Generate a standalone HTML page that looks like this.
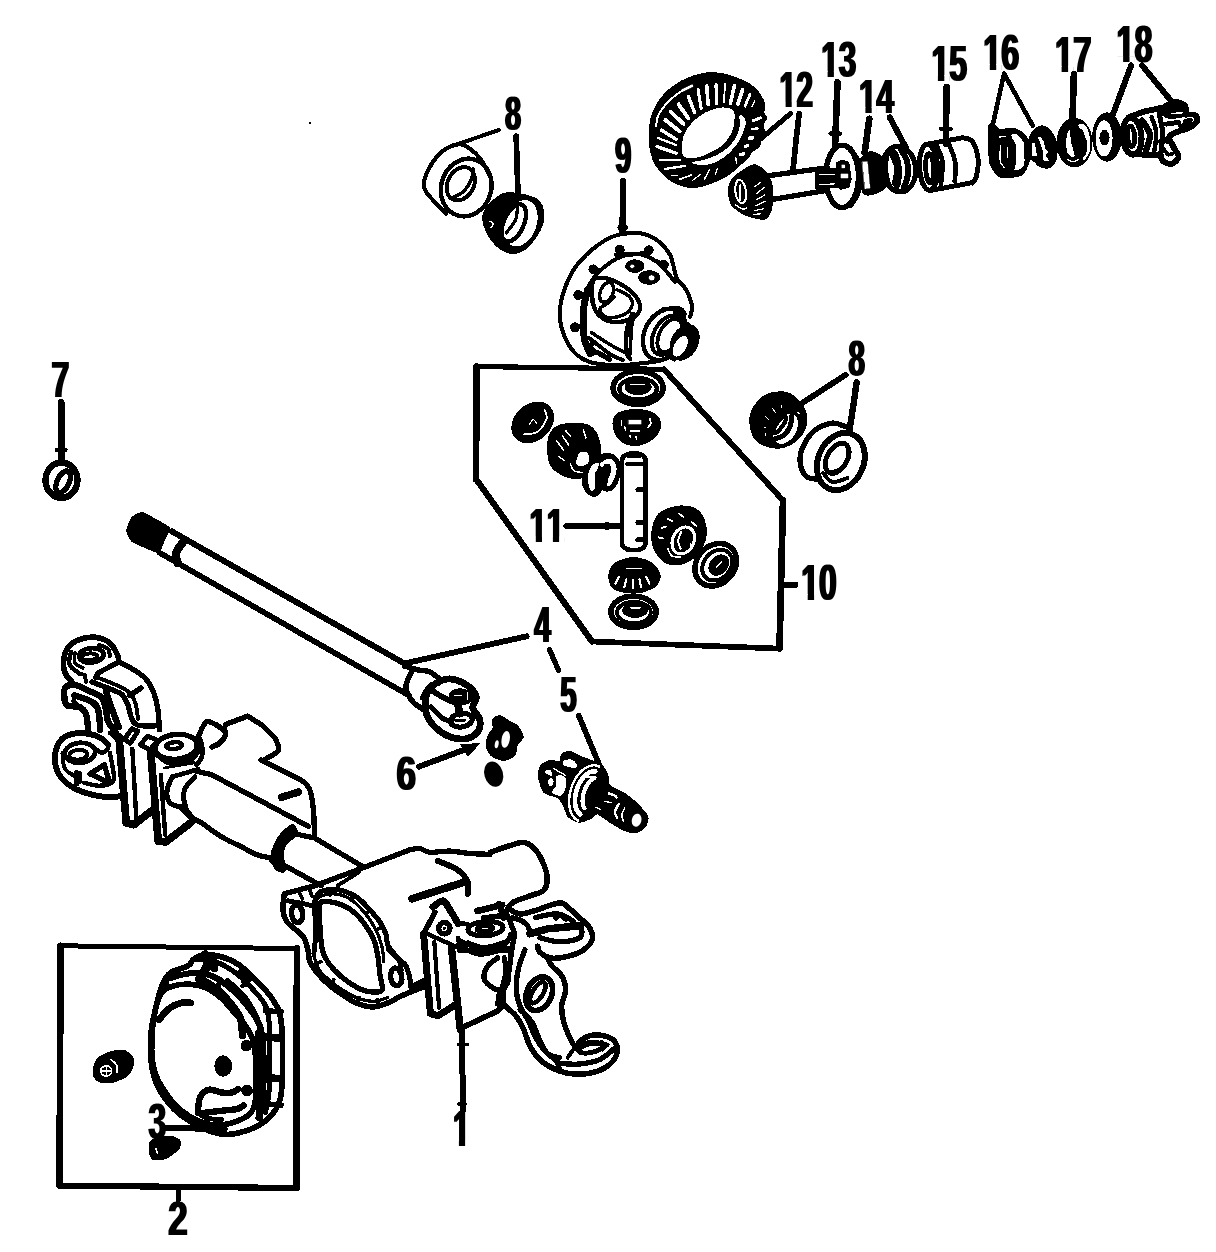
<!DOCTYPE html>
<html><head><meta charset="utf-8"><title>Front axle diagram</title>
<style>
html,body{margin:0;padding:0;background:#fff}
svg{display:block}
svg path,svg ellipse{stroke-linecap:round;stroke-linejoin:round}
svg text{font-family:"Liberation Sans",sans-serif;font-weight:bold;fill:#000}
</style></head><body>
<svg width="1216" height="1252" viewBox="0 0 1216 1252">
<defs><filter id="bold" x="-2%" y="-2%" width="104%" height="104%"><feMorphology operator="dilate" radius="1 0"/></filter></defs>
<rect width="1216" height="1252" fill="#fff"/>
<g id="labels" filter="url(#bold)">
<text transform="translate(506 129.7) scale(0.603 1)" font-size="47.9" x="-1.52" y="0">8</text>
<text transform="translate(616 173.4) scale(0.593 1)" font-size="49.6" x="-1.72" y="0">9</text>
<text transform="translate(781.6 107.4) scale(0.606 1)" font-size="49.5" x="-3.38 24.13" y="0">12</text>
<text transform="translate(823.4 76.6) scale(0.627 1)" font-size="50.2" x="-3.43 24.47" y="0">13</text>
<text transform="translate(861.2 112.8) scale(0.640 1)" font-size="49" x="-3.35 23.90" y="0">14</text>
<text transform="translate(933.6 80.7) scale(0.638 1)" font-size="50.2" x="-3.43 24.47" y="0">15</text>
<text transform="translate(985.5 69.7) scale(0.640 1)" font-size="50.4" x="-3.44 24.56" y="0">16</text>
<text transform="translate(1057.2 71.8) scale(0.648 1)" font-size="50.5" x="-3.45 24.61" y="0">17</text>
<text transform="translate(1118.8 62.2) scale(0.625 1)" font-size="51.7" x="-3.53 25.21" y="0">18</text>
<text transform="translate(803.5 599.7) scale(0.641 1)" font-size="49.6" x="-3.39 24.22" y="0">10</text>
<text transform="translate(531.6 542.1) scale(0.646 1)" font-size="47.8" x="-3.27 23.30" y="0">11</text>
<text transform="translate(849.5 375.6) scale(0.594 1)" font-size="49.8" x="-1.58" y="0">8</text>
<text transform="translate(52.9 396.6) scale(0.644 1)" font-size="49.6" x="-2.13" y="0">7</text>
<text transform="translate(534.7 641.6) scale(0.602 1)" font-size="49.6" x="-0.75" y="0">4</text>
<text transform="translate(397.9 790.4) scale(0.729 1)" font-size="48.1" x="-1.76" y="0">6</text>
<text transform="translate(561.2 712.1) scale(0.596 1)" font-size="49.5" x="-1.52" y="0">5</text>
<text transform="translate(455 1146.4) scale(0.608 1)" font-size="49.5" x="-3.38" y="0">1</text>
<text transform="translate(169.4 1234.9) scale(0.710 1)" font-size="49" x="-1.70" y="0">2</text>
<text transform="translate(149.3 1139.4) scale(0.636 1)" font-size="49.8" x="-1.14" y="0">3</text>
</g>
<g id="masks">
<rect x="779.5" y="101.8" width="6.1" height="7.1" fill="#fff"/>
<rect x="791.7" y="101.8" width="5" height="7.1" fill="#fff"/>
<rect x="821.2" y="70.9" width="6.4" height="7.2" fill="#fff"/>
<rect x="833.9" y="70.9" width="5.3" height="7.2" fill="#fff"/>
<rect x="859.1" y="107.2" width="6.3" height="7.1" fill="#fff"/>
<rect x="871.7" y="107.2" width="5.2" height="7.1" fill="#fff"/>
<rect x="931.4" y="75" width="6.5" height="7.2" fill="#fff"/>
<rect x="944.3" y="75" width="5.4" height="7.2" fill="#fff"/>
<rect x="983.3" y="64" width="6.5" height="7.2" fill="#fff"/>
<rect x="996.2" y="64" width="5.4" height="7.2" fill="#fff"/>
<rect x="1055" y="66" width="6.6" height="7.2" fill="#fff"/>
<rect x="1068.1" y="66" width="5.5" height="7.2" fill="#fff"/>
<rect x="1116.6" y="56.3" width="6.5" height="7.4" fill="#fff"/>
<rect x="1129.5" y="56.3" width="5.4" height="7.4" fill="#fff"/>
<rect x="801.3" y="594" width="6.4" height="7.2" fill="#fff"/>
<rect x="814.1" y="594" width="5.3" height="7.2" fill="#fff"/>
<rect x="529.5" y="536.6" width="6.3" height="7" fill="#fff"/>
<rect x="542" y="536.6" width="5.2" height="7" fill="#fff"/>
<rect x="546.6" y="536.6" width="6.3" height="7" fill="#fff"/>
<rect x="559.1" y="536.6" width="5.2" height="7" fill="#fff"/>
<rect x="452.8" y="1140.7" width="6.1" height="7.2" fill="#fff"/>
<rect x="465.1" y="1140.7" width="5" height="7.2" fill="#fff"/>
</g>
<g id="art" shape-rendering="crispEdges">
<path d="M498.8 130 L458.8 143.8" fill="none" stroke="#000" stroke-width="4"/>
<path d="M516.2 136.2 L517 162.5 L518 195" fill="none" stroke="#000" stroke-width="5.7"/>
<path d="M490 176.2C488.5 173.5 484.6 164.6 481.2 160C477.9 155.4 473.8 151.4 470 148.8C466.2 146.1 463.3 143.8 458.8 144.2C454.2 144.7 447.4 147.4 442.5 151.2C437.6 155.1 432.6 162.1 429.5 167.5C426.4 172.9 424.2 179.4 423.8 183.8C423.3 188.1 426.5 192.1 427 193.8" fill="none" stroke="#000" stroke-width="4.2"/>
<path d="M427 193.8 L446.2 213.8" fill="none" stroke="#000" stroke-width="4.2"/>
<ellipse cx="466.2" cy="187.5" rx="25" ry="29.2" transform="rotate(18 466.2 187.5)" fill="none" stroke="#000" stroke-width="4.4"/>
<ellipse cx="460.8" cy="183.8" rx="13" ry="17.5" transform="rotate(28 460.8 183.8)" fill="none" stroke="#000" stroke-width="4"/>
<path d="M473 168.8C472.7 170.6 472.8 176.2 471.2 180C469.7 183.8 466.8 188.3 463.8 191.2C460.7 194.2 454.8 196.5 453 197.5" fill="none" stroke="#000" stroke-width="3.5"/>
<path d="M483.8 216.2C484.2 210.6 488.5 206.2 492.5 202.5C496.5 198.8 500.2 194.2 507.5 193.8C514.8 193.3 530.3 196.2 536.2 200C542.2 203.8 543 210.4 543 216.2C543 222.1 539.9 229.3 536.2 235C532.6 240.7 526.5 247.9 521.2 250.5C516 253.1 510.2 252.9 505 250.5C499.8 248.1 493.5 242 490 236.2C486.5 230.5 483.3 221.9 483.8 216.2Z" fill="#000" stroke="#000" stroke-width="3"/>
<ellipse cx="520.5" cy="223.2" rx="15" ry="23" transform="rotate(20 520.5 223.2)" fill="#fff" stroke="#fff" stroke-width="2"/>
<ellipse cx="513.8" cy="223" rx="10" ry="20" transform="rotate(24 513.8 223)" fill="none" stroke="#000" stroke-width="4.4"/>
<path d="M490 221.2C490.5 221.7 492.8 222.7 493 223.8C493.2 224.8 491.5 226.9 491.2 227.5" fill="none" stroke="#fff" stroke-width="1.5"/>
<path d="M517.5 206.2C517.2 208.5 517.4 215.5 515.5 220C513.6 224.5 507.8 230.8 506.2 233" fill="none" stroke="#000" stroke-width="3.3"/>
<path d="M623.2 181.2 L622.5 233" fill="none" stroke="#000" stroke-width="6.4"/>
<path d="M620 227.5 L625.5 227.5" fill="none" stroke="#000" stroke-width="5"/>
<path d="M621.7 233.8C624.8 233.7 634.8 232.5 640.1 233.2C645.4 233.8 649.3 235.6 653.3 237.8C657.2 240 660.9 243.4 663.8 246.3C666.6 249.3 668.7 252.2 670.4 255.6C672 259 672.6 262.9 673.7 266.7C674.8 270.6 675.1 275.1 676.9 278.6C678.8 282.1 682.8 284.7 684.8 287.8C686.9 290.9 688.2 293.7 689.4 297C690.7 300.3 692 304.2 692.1 307.5C692.2 310.8 690.4 315.2 690.1 316.7" fill="none" stroke="#000" stroke-width="4.1"/>
<path d="M621.7 233.8C619.7 234.5 613.8 235.9 609.8 237.8C605.9 239.7 601.9 242.2 598 245C594.1 247.9 589.9 251.3 586.2 254.9C582.4 258.5 578.7 262.4 575.6 266.7C572.6 271.1 570 275.9 567.7 281.2C565.4 286.5 563.1 292.8 561.8 298.3C560.5 303.8 559.8 309.1 559.8 314.1C559.8 319.1 560.5 323.8 561.8 328.6C563.1 333.4 565.2 338.7 567.7 343.1C570.3 347.4 573.2 351.7 576.9 354.9C580.7 358.1 585.1 360.5 590.1 362.1C595.1 363.8 601.1 364.3 607.2 364.8C613.4 365.2 621.5 365 626.9 364.8C632.4 364.5 635.3 364 640.1 363.4C644.9 362.9 651.5 362.2 655.9 361.5C660.3 360.7 664.7 359.3 666.4 358.8" fill="none" stroke="#000" stroke-width="4.1"/>
<path d="M591.4 353.6C590.4 351.4 587 345.2 585.5 340.4C584 335.6 582.9 330.1 582.5 324.6C582 319.1 582.1 313.2 582.9 307.5C583.6 301.8 585 295.5 586.8 290.4C588.7 285.4 591.1 281.2 594.1 277.3C597 273.3 600.9 269.8 604.6 266.7C608.3 263.7 612.7 260.8 616.4 258.8C620.1 256.9 623 255.7 626.9 254.9C630.9 254.1 635.9 253.6 640.1 254.2C644.3 254.9 648.4 257 651.9 258.8C655.5 260.7 658.3 262.8 661.2 265.4C664 268.1 666.8 271.9 669.1 274.6C671.4 277.4 674 280.7 675 281.9" fill="none" stroke="#000" stroke-width="4"/>
<path d="M590.1 353.6C589.2 351.4 586 345.2 584.8 340.4C583.7 335.6 583.4 330.1 583.3 324.6C583.1 319.1 583.1 313.2 583.8 307.5C584.5 301.8 586.9 293.3 587.5 290.4" fill="none" stroke="#000" stroke-width="7"/>
<path d="M591.4 303.6C591.2 305.8 590.3 312.4 590.4 316.7C590.5 321.1 591.8 327.7 592.1 329.9" fill="none" stroke="#fff" stroke-width="1.2"/>
<path d="M616.4 254.9 L645.4 253.6" fill="none" stroke="#000" stroke-width="4.7"/>
<path d="M593.4 279.9C595.3 276.9 599.4 277.6 603.3 277.9C607.1 278.2 612.3 280 616.4 281.9C620.6 283.7 625 286.6 628.3 289.1C631.6 291.6 634.2 294.1 636.2 297C638.1 299.9 639.9 303.4 640.1 306.2C640.3 309.1 639.2 311.9 637.5 314.1C635.7 316.3 632.6 318.1 629.6 319.4C626.5 320.7 622.8 321.8 619.1 322C615.3 322.2 610.5 321.8 607.2 320.7C603.9 319.6 601.5 317.6 599.3 315.4C597.1 313.2 595.3 310.8 594.1 307.5C592.8 304.2 592.2 300.3 592.1 295.7C592 291.1 591.5 282.9 593.4 279.9Z" fill="none" stroke="#000" stroke-width="4.4"/>
<ellipse cx="606.6" cy="292.4" rx="6.3" ry="10.3" transform="rotate(22 606.6 292.4)" fill="none" stroke="#000" stroke-width="3.5"/>
<path d="M617.1 289.8C618.9 290.8 625.7 293.4 628.3 295.7C630.8 298 632.7 300.7 632.5 303.6C632.3 306.4 629.6 310.6 626.9 312.8C624.3 315 619.9 316.3 616.4 317C612.9 317.7 608.5 317.8 605.9 317C603.3 316.2 601.5 313.7 600.6 312.1C599.8 310.6 599.8 309 600.9 307.5C602 306.1 605.1 305.3 607.2 303.6C609.4 301.8 612.7 298.1 613.8 297" fill="none" stroke="#000" stroke-width="3.5"/>
<path d="M632.2 314.1C631.4 316.3 628.7 322.9 627.6 327.3C626.6 331.6 626 336 625.9 340.4C625.8 344.8 626.2 350.5 626.9 353.6C627.7 356.6 629.7 358 630.2 358.8" fill="none" stroke="#000" stroke-width="4.7"/>
<path d="M634.2 314.1C633.7 316.7 631.8 323.3 631.2 329.9C630.6 336.5 630.7 349.6 630.6 353.6" fill="none" stroke="#000" stroke-width="3.5"/>
<path d="M591.4 332.5C593.4 333.8 599.1 337.8 603.3 340.4C607.4 343.1 612.5 346.1 616.4 348.3C620.4 350.5 625.2 352.7 626.9 353.6" fill="none" stroke="#000" stroke-width="3.5"/>
<path d="M588.8 337.8C590.8 339.3 596.9 344.1 600.6 347C604.4 349.9 607.4 352.7 611.2 354.9C614.9 357.1 621 359.3 623 360.2" fill="none" stroke="#000" stroke-width="4"/>
<path d="M587.5 350.3C589 350.6 593 350.7 596.7 352.3C600.4 353.8 607.6 358.3 609.8 359.5" fill="none" stroke="#000" stroke-width="5.1"/>
<circle cx="619.7" cy="249.6" r="5" fill="#000"/>
<path d="M619.7 249.6 L621.7 256.5" fill="none" stroke="#000" stroke-width="4.4"/>
<circle cx="648.7" cy="250.3" r="5" fill="#000"/>
<path d="M648.7 250.3 L646 255.9" fill="none" stroke="#000" stroke-width="4.4"/>
<circle cx="663.8" cy="264.8" r="5" fill="#000"/>
<path d="M663.8 264.8 L657.2 261.5" fill="none" stroke="#000" stroke-width="4.4"/>
<circle cx="593.4" cy="269.4" r="5" fill="#000"/>
<path d="M593.4 269.4 L599.3 270.7" fill="none" stroke="#000" stroke-width="4.4"/>
<circle cx="578.3" cy="295" r="5" fill="#000"/>
<path d="M578.3 295 L584.8 295.7" fill="none" stroke="#000" stroke-width="4.4"/>
<circle cx="575" cy="327.3" r="5" fill="#000"/>
<path d="M575 327.3 L583.5 325.9" fill="none" stroke="#000" stroke-width="4.4"/>
<circle cx="590.8" cy="351.6" r="5" fill="#000"/>
<path d="M590.8 351.6 L591.4 344.4" fill="none" stroke="#000" stroke-width="4.4"/>
<ellipse cx="634.8" cy="266.1" rx="9.2" ry="6.3" transform="rotate(0 634.8 266.1)" fill="#000" stroke="#000" stroke-width="1"/>
<ellipse cx="632.2" cy="266.3" rx="1.8" ry="1.6" transform="rotate(0 632.2 266.3)" fill="#fff" stroke="#fff" stroke-width="0.5"/>
<ellipse cx="649.3" cy="277.5" rx="10.5" ry="6.8" transform="rotate(0 649.3 277.5)" fill="#000" stroke="#000" stroke-width="1"/>
<ellipse cx="651.6" cy="277.8" rx="2.6" ry="2.4" transform="rotate(0 651.6 277.8)" fill="#fff" stroke="#fff" stroke-width="0.5"/>
<ellipse cx="664.4" cy="334.5" rx="19.7" ry="27" transform="rotate(28 664.4 334.5)" fill="none" stroke="#000" stroke-width="4.4"/>
<ellipse cx="667.1" cy="335.2" rx="13.2" ry="21.1" transform="rotate(28 667.1 335.2)" fill="none" stroke="#000" stroke-width="4"/>
<ellipse cx="669.7" cy="335.4" rx="10.3" ry="17.8" transform="rotate(28 669.7 335.4)" fill="none" stroke="#000" stroke-width="3.8"/>
<path d="M675 312.8 L690.8 327.3" fill="none" stroke="#000" stroke-width="4"/>
<path d="M658.5 350.3 L674.3 359.5" fill="none" stroke="#000" stroke-width="4"/>
<ellipse cx="684.6" cy="342.4" rx="12.1" ry="17.8" transform="rotate(28 684.6 342.4)" fill="#000" stroke="#000" stroke-width="3"/>
<ellipse cx="680.2" cy="346.3" rx="5.5" ry="10.8" transform="rotate(30 680.2 346.3)" fill="#fff" stroke="#fff" stroke-width="1"/>
<path d="M684.8 314.1C684.2 313.2 682.9 309.8 680.9 308.8C678.9 307.9 676.1 308.1 673 308.2C669.9 308.3 664.2 309.3 662.5 309.5" fill="none" stroke="#000" stroke-width="4"/>
<rect x="309" y="122" width="2" height="2" fill="#000"/>
<path d="M705.4 73.1C709.7 72.5 716.3 72.8 720.5 73.4C724.6 74.1 732.9 76.6 736.6 77.9C740.4 79.3 745.8 81.7 748.5 83.3C751.2 85 755.2 88.2 757.1 90.3C759 92.5 762 97.3 763 99.5C764 101.7 764.6 105.3 764.7 107C764.8 108.8 763.5 111 763.8 112.4C764 113.9 766.6 116.2 766.6 117.8C766.6 119.4 763.9 122.4 763.6 124.3C763.2 126.2 764.5 129.7 764.1 131.8C763.8 134 761.5 138.4 760.9 140.5C760.2 142.5 760.6 145.3 759.3 146.9C758 148.5 752.6 150.9 751.2 152.3C749.7 153.7 750 156 748.5 157.7C747 159.4 741.9 163.5 739.9 165.2C737.8 167 735.4 169.6 733.4 171.2C731.4 172.8 727.6 175.5 724.8 177.1C721.9 178.7 715.7 181.7 711.8 183C708 184.4 699.7 187 695.7 187.3C691.6 187.7 685.2 186.8 681.6 185.7C678.1 184.7 671.7 181.4 668.7 179.3C665.7 177.1 661.1 172.1 659 169.6C656.9 167 654.3 162.9 653.1 159.9C651.9 156.8 650.4 150.7 649.9 146.9C649.3 143.2 649.2 135.6 649.3 131.8C649.5 128.1 650.1 122.3 650.9 118.9C651.8 115.4 654 109.3 655.8 106C657.6 102.7 661.8 96.9 664.4 94.1C667 91.3 672 87.1 675.2 84.9C678.3 82.8 684.1 79.5 688.1 77.9C692.1 76.4 701.1 73.7 705.4 73.1Z" fill="#000" stroke="#000" stroke-width="1"/>
<path d="M692.4 162.6C692.4 163.1 698.5 164.6 701.1 164.7C703.6 164.8 709 164 711.8 163.1C714.7 162.2 720 159.4 722.6 157.7C725.2 156 729.1 152.5 731.2 150.2C733.4 147.9 737.1 143.2 738.8 140.5C740.4 137.7 742.8 132.3 743.6 129.7C744.5 127.1 745.5 122.9 745.2 121.1C745 119.2 742.7 116.4 742 115.7C741.3 115 740.1 114.6 739.9 115.9C739.6 117.2 740.7 122.8 740.4 125.4C740.1 127.9 738.9 132.5 737.7 135.1C736.5 137.7 733.2 142.5 731.2 144.8C729.2 147.1 725.2 150.6 722.6 152.3C720 154 714.7 156.6 711.8 157.7C709 158.9 703.6 160.3 701.1 160.9C698.5 161.6 692.4 162.1 692.4 162.6Z" fill="#fff" stroke="#fff" stroke-width="1"/>
<path d="M683.3 154.5C682.5 152.5 682.4 145.5 682.7 142.6C683 139.7 684.1 135.5 685.4 132.9C686.7 130.3 690.3 125.5 692.4 123.2C694.5 120.9 698.5 117.4 701.1 115.7C703.6 113.9 709.2 111.3 711.8 110.3C714.4 109.3 718.2 108.3 720.5 108.1C722.8 107.9 727.4 108.2 729.1 108.7C730.8 109.1 732.7 110 733.4 111.4C734.1 112.7 734.2 116.5 734 118.9C733.9 121.3 733.3 126.9 732.3 129.7C731.4 132.4 728.6 137.1 726.9 139.4C725.2 141.7 721.7 145.2 719.4 146.9C717.1 148.6 712.4 151 709.7 152.3C706.9 153.6 701.8 155.9 698.9 156.6C696 157.3 690.2 158 688.1 157.7C686 157.4 684 156.5 683.3 154.5Z" fill="#fff" stroke="#fff" stroke-width="1"/>
<path d="M706.7 86 L708.1 104.3" fill="none" stroke="#fff" stroke-width="3.6"/>
<path d="M716.1 84.9 L716.7 103.3" fill="none" stroke="#fff" stroke-width="3.4"/>
<path d="M724.8 83.5 L724.2 102.5" fill="none" stroke="#fff" stroke-width="1.9"/>
<path d="M734.5 85.5 L730.4 103.3" fill="none" stroke="#fff" stroke-width="3.6"/>
<path d="M742.6 89.8 L737.9 104" fill="none" stroke="#fff" stroke-width="3.6"/>
<path d="M750.1 94.1 L745 106.2" fill="none" stroke="#fff" stroke-width="2.8"/>
<path d="M754.9 100.8 L751.9 106.4" fill="none" stroke="#fff" stroke-width="1.3"/>
<path d="M698 89.8 L701.1 108.1" fill="none" stroke="#fff" stroke-width="3.1"/>
<path d="M688.3 96.3 L694.6 112.4" fill="none" stroke="#fff" stroke-width="3.4"/>
<path d="M678.6 104.3 L688.3 118.5" fill="none" stroke="#fff" stroke-width="3.9"/>
<path d="M670.7 111.9 L683.6 123.9" fill="none" stroke="#fff" stroke-width="3.9"/>
<path d="M665.3 120 L679.7 131.4" fill="none" stroke="#fff" stroke-width="3.9"/>
<path d="M661.4 130.1 L676 139.2" fill="none" stroke="#fff" stroke-width="3.4"/>
<path d="M658.2 138.1 L676 145" fill="none" stroke="#fff" stroke-width="2.3"/>
<path d="M657.1 146.5 L676 153.2" fill="none" stroke="#fff" stroke-width="3.4"/>
<path d="M659.9 159.9 L680.4 160.4" fill="none" stroke="#fff" stroke-width="2.1"/>
<path d="M664.6 169 L685.1 165.9" fill="none" stroke="#fff" stroke-width="2.3"/>
<path d="M671.5 175.5 L677.3 175.5" fill="none" stroke="#fff" stroke-width="1"/>
<path d="M679.7 179.3 L691.1 175.2" fill="none" stroke="#fff" stroke-width="1.7"/>
<path d="M692.6 180.3 L700.8 174.1" fill="none" stroke="#fff" stroke-width="1.3"/>
<path d="M704.5 179 L709.5 169.8" fill="none" stroke="#fff" stroke-width="1.4"/>
<path d="M715.3 174.7 L717.2 168.7" fill="none" stroke="#fff" stroke-width="1.3"/>
<path d="M753 120.8 L760.1 118" fill="none" stroke="#fff" stroke-width="3.1"/>
<path d="M752.5 129.1 L757.5 128.6" fill="none" stroke="#fff" stroke-width="2.6"/>
<path d="M749.3 138.3 L752.6 137.9" fill="none" stroke="#fff" stroke-width="3.6"/>
<path d="M745.5 146.4 L747.8 145.4" fill="none" stroke="#fff" stroke-width="3.1"/>
<path d="M740.7 154.5 L743.5 154" fill="none" stroke="#fff" stroke-width="3.6"/>
<path d="M735.8 157.9 L736.6 162.9" fill="none" stroke="#fff" stroke-width="1.4"/>
<path d="M656 126.4C656.3 124.8 656.6 119.8 657.7 116.7C658.9 113.7 660.7 111 662.8 108.1C664.9 105.3 667.3 102.5 670.3 99.7C673.4 96.9 677.6 93.7 681.1 91.4C684.6 89.1 689.6 86.9 691.4 86" fill="none" stroke="#fff" stroke-width="2"/>
<path d="M681.9 89.6 L692.4 84.6 L692.9 86.6 L682.9 91.3Z" fill="#fff" stroke="#fff" stroke-width="0.6"/>
<path d="M790.5 113.5 L761.7 138.1" fill="none" stroke="#000" stroke-width="5.1"/>
<path d="M799.2 113.5 L796.2 138.9 L793 170.2" fill="none" stroke="#000" stroke-width="5.7"/>
<path d="M733.8 177.6C736.6 174.7 749.8 165.9 753.5 165.3C757.1 164.6 762.9 169.5 765 171.8C767.1 174.1 770.8 180.8 771.6 185C772.3 189.2 772 204.1 771.2 208C770.5 212 768 217.9 765 218.7C762 219.5 749.1 216.2 745.3 214.6C741.4 213 734 207.6 732.1 204.7C730.2 201.9 728.6 193.1 728.8 189.9C729 186.8 730.9 180.5 733.8 177.6Z" fill="#000" stroke="#000" stroke-width="2"/>
<ellipse cx="740.7" cy="191.6" rx="5.3" ry="11.8" transform="rotate(-8 740.7 191.6)" fill="none" stroke="#fff" stroke-width="2"/>
<path d="M740.3 185 L740.3 199.8" fill="none" stroke="#fff" stroke-width="1.8"/>
<path d="M755.1 186.6 L760.1 182.5" fill="none" stroke="#fff" stroke-width="1.3"/>
<path d="M756 194 L764.2 187.5" fill="none" stroke="#fff" stroke-width="1.3"/>
<path d="M756.4 199.8 L765 194.9" fill="none" stroke="#fff" stroke-width="1.3"/>
<path d="M756 205.6 L765 201.4" fill="none" stroke="#fff" stroke-width="1.3"/>
<path d="M755.1 210.5 L763.4 208.8" fill="none" stroke="#fff" stroke-width="1.3"/>
<path d="M753.5 214.6 L760.1 213.8" fill="none" stroke="#fff" stroke-width="1.3"/>
<path d="M735.4 204.7C736.5 205.4 740.1 208.3 742 208.8C743.9 209.4 746.1 208.2 746.9 208" fill="none" stroke="#fff" stroke-width="1.5"/>
<path d="M769.9 175.5 L827.5 167.7" fill="none" stroke="#000" stroke-width="5.3"/>
<path d="M771.6 199.5 L827.5 190.3" fill="none" stroke="#000" stroke-width="5.3"/>
<path d="M816.8 173.5 L819.3 188.3" fill="none" stroke="#000" stroke-width="4.4"/>
<path d="M816.8 173.5 L827.5 168.6 L827.5 189.9 L819.3 191.6Z" fill="#000" stroke="#000" stroke-width="1"/>
<path d="M837.5 82.3 L835.1 145.1" fill="none" stroke="#000" stroke-width="6.6"/>
<path d="M869.3 118.8 L864.7 152.5" fill="none" stroke="#000" stroke-width="6.6"/>
<path d="M889.8 117.5 L906.3 148.4" fill="none" stroke="#000" stroke-width="6"/>
<path d="M946.6 87.2 L945.8 143.5" fill="none" stroke="#000" stroke-width="6.6"/>
<path d="M940.8 128.7 L950.7 128.7" fill="none" stroke="#000" stroke-width="4.4"/>
<path d="M830.6 133.6 L839.7 133.6" fill="none" stroke="#000" stroke-width="4.4"/>
<ellipse cx="842.1" cy="176.4" rx="16.4" ry="31.2" transform="rotate(0 842.1 176.4)" fill="none" stroke="#000" stroke-width="5.5"/>
<path d="M850.4 148.4C851.7 150.6 856.8 156.6 858.6 161.6C860.4 166.5 861.2 172.5 861.1 178C860.9 183.5 859.5 189.8 857.8 194.5C856 199.1 851.6 204.1 850.4 206" fill="none" stroke="#000" stroke-width="4.7"/>
<path d="M853.7 155C854.4 158.8 858.1 170.4 858.1 178C858.1 185.7 854.4 197.2 853.7 201.1" fill="none" stroke="#000" stroke-width="2.8"/>
<path d="M815 169 L848.7 167.8 L848.7 187.1 L815 188.2Z" fill="#000" stroke="#000" stroke-width="1"/>
<path d="M836.7 162.9 L842.1 159.9 L848.7 162.4 L851.3 179.5 L848.7 187.4 L840.8 189.2 L837.2 187.1Z" fill="#000" stroke="#000" stroke-width="1"/>
<path d="M841.3 173.9 L847.9 173.9 L847.9 178 L841.3 178Z" fill="#fff" stroke="#fff" stroke-width="0.5"/>
<path d="M842.1 164.9 L844.6 164.9 L844.6 167.8 L842.1 167.8Z" fill="#fff" stroke="#fff" stroke-width="0.5"/>
<path d="M819.9 174.7 L834.7 174.4" fill="none" stroke="#fff" stroke-width="1.2"/>
<path d="M819.9 184.6 L834.7 183.9" fill="none" stroke="#fff" stroke-width="1.2"/>
<path d="M859.7 161.6C861.1 157.3 865.8 153.4 869.3 152.5C872.8 151.7 877.9 153.8 880.8 156.6C883.7 159.5 886 165.1 886.9 169.8C887.8 174.5 887.5 180.9 886.1 184.6C884.6 188.3 881.9 190.5 878.3 192C874.7 193.5 867.2 195.8 864.3 193.5C861.5 191.2 861.8 183.3 861.1 178C860.3 172.7 858.4 165.8 859.7 161.6Z" fill="#000" stroke="#000" stroke-width="2"/>
<path d="M862.5 161.9 L867.3 161.6 L869.9 188.2 L865.2 188.6Z" fill="#fff" stroke="#fff" stroke-width="0.6"/>
<ellipse cx="899.2" cy="169" rx="16.4" ry="23" transform="rotate(-6 899.2 169)" fill="none" stroke="#000" stroke-width="5.1"/>
<ellipse cx="892.6" cy="169.8" rx="6.9" ry="19.4" transform="rotate(-4 892.6 169.8)" fill="none" stroke="#000" stroke-width="4.9"/>
<path d="M900.5 148.4C901.6 150.6 905.9 157.2 907.1 161.6C908.3 166 908.5 170.4 907.9 174.7C907.4 179.1 904.5 185.7 903.8 187.9" fill="none" stroke="#000" stroke-width="6"/>
<path d="M892.3 155C893.1 157.2 896.8 163.5 897.2 168.2C897.6 172.8 895.2 180.5 894.8 183" fill="none" stroke="#000" stroke-width="5.9"/>
<ellipse cx="928.5" cy="167.3" rx="9" ry="23" transform="rotate(-3 928.5 167.3)" fill="none" stroke="#000" stroke-width="5.1"/>
<ellipse cx="929.6" cy="168.2" rx="3.9" ry="14.5" transform="rotate(-3 929.6 168.2)" fill="none" stroke="#000" stroke-width="4.7"/>
<path d="M928.2 144 L963 137.7" fill="none" stroke="#000" stroke-width="4.9"/>
<path d="M931 190.4 L972.6 182.6" fill="none" stroke="#000" stroke-width="4.9"/>
<path d="M963 137.7C964.6 138.4 970 138.1 972.6 141.8C975.1 145.5 977.6 153.9 978.2 159.9C978.7 166 976.9 174.2 975.9 178C974.8 181.9 972.7 182.1 972.1 183" fill="none" stroke="#000" stroke-width="4.9"/>
<path d="M936.7 146C937.7 148.6 941.8 155 942.5 161.6C943.2 168.2 941.1 181.5 940.8 185.4" fill="none" stroke="#000" stroke-width="4.7"/>
<path d="M948.6 143.2C949.6 146.2 954.1 155.2 955.1 161.6C956.2 168 954.9 178.3 954.8 181.6" fill="none" stroke="#000" stroke-width="4.7"/>
<path d="M1004.1 73.6 L992.3 127.0" stroke="#000" stroke-width="4.6" fill="none"/>
<path d="M1004.1 73.6 L1032.8 125.8" stroke="#000" stroke-width="4.6" fill="none"/>
<path d="M1073.9 74.1 L1072.3 124.1" fill="none" stroke="#000" stroke-width="6.6"/>
<path d="M1131.1 65.5 L1112.9 114.6" fill="none" stroke="#000" stroke-width="6"/>
<path d="M1142.1 65.5 L1172.4 102.4" fill="none" stroke="#000" stroke-width="6"/>
<path d="M989.2 125.5C989.8 123.3 991.8 124.3 993.2 124.9C994.6 125.4 997.5 129.3 999.7 129.8C1002 130.3 1008 128.9 1010.3 128.9C1012.5 128.9 1015.1 129.1 1016.8 129.8C1018.6 130.5 1022 132.7 1023.4 134.1C1024.8 135.4 1026.6 138 1027.4 140C1028.1 142 1028.7 146.4 1028.8 149.2C1029 152 1028.9 158.5 1028.6 161.1C1028.2 163.6 1026.9 166.5 1026.1 168.3C1025.2 170 1024 173.1 1022.1 174.2C1020.2 175.4 1014.4 176.5 1011.6 176.8C1008.8 177.2 1003.1 177.1 1001.1 176.7C999 176.3 997.6 174.8 996.4 173.6C995.3 172.3 993.4 169.3 992.5 167.6C991.6 166 990.3 164.6 989.9 161.1C989.4 157.5 989.2 146.1 989.1 141.3C989 136.6 988.7 127.7 989.2 125.5Z" fill="#000" stroke="#000" stroke-width="2"/>
<path d="M1012.2 134.7C1012.8 134.4 1015.7 134.5 1016.8 135.1C1018 135.7 1019.9 138.2 1020.8 139.3C1021.7 140.5 1023.3 141.9 1023.8 143.9C1024.2 146 1023.9 151.8 1023.9 154.5C1023.9 157.2 1024.3 162.5 1023.8 164.3C1023.2 166.2 1021.3 167.9 1020.1 168.6C1018.9 169.3 1015.4 170.2 1014.9 169.7C1014.3 169.3 1015.8 167 1016.1 165C1016.3 163 1016.9 156.9 1017 154.5C1017 152 1016.9 148.4 1016.6 146.6C1016.3 144.7 1015.1 141.9 1014.5 140.7C1014 139.4 1012.7 138.2 1012.4 137.4C1012.1 136.6 1011.6 135 1012.2 134.7Z" fill="#fff" stroke="#fff" stroke-width="1"/>
<path d="M1000.4 145.3C1000.4 147.9 999.6 157.3 1000.3 161.1C1000.9 164.8 1003.7 166.5 1004.3 167.6" fill="none" stroke="#fff" stroke-width="1.3"/>
<path d="M1007.3 147.9 L1007.3 157.8" fill="none" stroke="#fff" stroke-width="1.3"/>
<path d="M999.4 137 L1005 136.4" fill="none" stroke="#fff" stroke-width="1.3"/>
<path d="M1029 141.3C1029.4 138 1030.9 135.2 1032 133.4C1033.1 131.7 1035.9 129.1 1037.2 128.2C1038.6 127.2 1040.4 126.2 1041.8 126.3C1043.3 126.4 1047 128.1 1048.4 129.1C1049.8 130.2 1051.4 132.5 1052.4 134.1C1053.3 135.7 1055.1 139.3 1055.7 141.3C1056.2 143.3 1056.6 146.8 1056.6 149.2C1056.6 151.7 1056.4 157.5 1055.7 159.7C1054.9 162 1052.4 165.3 1051.1 166.3C1049.7 167.4 1047.4 167.7 1045.8 167.6C1044.2 167.5 1040.5 166.4 1039.2 165.7C1037.9 165 1036.9 163.2 1035.9 162.4C1035 161.5 1032.9 159.6 1032 159.1C1031.1 158.6 1029.4 160.8 1029 158.4C1028.6 156.1 1028.6 144.6 1029 141.3Z" fill="#000" stroke="#000" stroke-width="2"/>
<path d="M1032.1 143.3 L1034.3 143.3 L1036.6 155.8 L1033 155.8Z" fill="#fff" stroke="#fff" stroke-width="1"/>
<path d="M1039.2 137C1039.6 137.2 1042.6 140.1 1043.2 141.3C1043.7 142.5 1044.3 148.2 1044.8 149.2C1045.3 150.3 1047.7 151.2 1047.8 151.8C1047.8 152.4 1045.1 154.3 1045.1 155.1C1045.2 156 1048.6 159.9 1048.4 160.4C1048.2 160.9 1043.7 160.6 1043.2 159.7C1042.7 158.9 1043.7 153.4 1043.5 151.8C1043.3 150.3 1041.6 145.2 1041.2 143.9C1040.7 142.7 1039.3 140 1039.1 139.3C1038.9 138.7 1038.8 136.8 1039.2 137Z" fill="#fff" stroke="#fff" stroke-width="1"/>
<ellipse cx="1074.5" cy="142.6" rx="17.5" ry="24.2" transform="rotate(0 1074.5 142.6)" fill="#000" stroke="#000" stroke-width="1"/>
<path d="M1069.7 130.8C1069.4 130.4 1067.6 132.9 1067.2 135.3C1066.9 137.6 1066.8 146 1067 148.4C1067.1 150.9 1067.8 152.7 1068.4 153.7C1069.1 154.7 1071 155.7 1071.7 156.1C1072.5 156.4 1073.9 156.7 1074.1 156.1C1074.3 155.4 1073.4 152.6 1073 151.1C1072.6 149.5 1071.6 146.2 1071.2 144.5C1070.8 142.7 1070.3 139.7 1070.1 137.9C1069.9 136.1 1070.1 131.1 1069.7 130.8Z" fill="#fff" stroke="#fff" stroke-width="1"/>
<path d="M1078.9 124.9C1079.5 124.5 1083 124.3 1084.2 125.1C1085.4 126 1087.2 129.2 1087.9 131.3C1088.6 133.5 1089.4 138.6 1089.6 141.2C1089.8 143.8 1089.6 149.1 1089.2 151.1C1088.9 153 1087.6 154.6 1087 155.8C1086.3 156.9 1084.6 159.6 1084.2 159.7C1083.8 159.9 1083.6 157.8 1083.9 157.1C1084.3 156.4 1086.3 156.5 1086.7 154.3C1087.1 152.2 1087.5 143.7 1087.2 141.2C1087 138.6 1085.6 136.8 1085 135.3C1084.4 133.7 1083.5 130.3 1082.9 129.3C1082.3 128.3 1080.8 128.4 1080.3 127.8C1079.7 127.2 1078.4 125.2 1078.9 124.9Z" fill="#fff" stroke="#fff" stroke-width="1"/>
<path d="M1067.8 159.3C1068.1 159.6 1068.3 160.7 1069.7 160.9C1071.2 161.2 1074.9 161.2 1076.3 160.9C1077.7 160.7 1077.7 159.6 1078 159.3" fill="none" stroke="#fff" stroke-width="1.2"/>
<ellipse cx="1107" cy="137" rx="14.3" ry="24.2" transform="rotate(0 1107 137)" fill="#000" stroke="#000" stroke-width="1"/>
<ellipse cx="1104.1" cy="138.4" rx="8" ry="17.6" transform="rotate(0 1104.1 138.4)" fill="#fff" stroke="#fff" stroke-width="1"/>
<ellipse cx="1104.5" cy="137.6" rx="4.6" ry="7.2" transform="rotate(0 1104.5 137.6)" fill="#000" stroke="#000" stroke-width="1"/>
<ellipse cx="1132" cy="136.3" rx="9.5" ry="18.4" transform="rotate(-5 1132 136.3)" fill="none" stroke="#000" stroke-width="5.9"/>
<ellipse cx="1131.1" cy="136.3" rx="3.6" ry="10.1" transform="rotate(-5 1131.1 136.3)" fill="none" stroke="#000" stroke-width="4.9"/>
<path d="M1128.5 117.5 L1143.8 111.6 L1162 107.8" fill="none" stroke="#000" stroke-width="6"/>
<path d="M1134.3 154 L1161.2 155.7" fill="none" stroke="#000" stroke-width="6"/>
<path d="M1142.1 120.6C1143.4 123 1149.3 129.5 1149.9 134.5C1150.5 139.6 1146.6 148.3 1145.9 151" fill="none" stroke="#000" stroke-width="6.4"/>
<path d="M1151.6 117.2C1152.4 119.8 1155.9 126.7 1156.3 132.8C1156.7 138.9 1154.3 150.1 1153.9 153.6" fill="none" stroke="#000" stroke-width="4.4"/>
<path d="M1159.1 113.7C1159.7 116.9 1162.3 126.1 1162.6 132.8C1162.8 139.5 1161.1 150.4 1160.8 154" fill="none" stroke="#000" stroke-width="5.1"/>
<path d="M1160.3 110.2C1160.3 108.4 1164.2 104.6 1166.4 103.3C1168.6 101.9 1174.1 100.1 1176.8 100.2C1179.4 100.3 1184.9 102.4 1186.3 104.2C1187.8 106 1188.6 112 1187.5 113.7C1186.5 115.4 1181.3 116.7 1178.5 117.2C1175.7 117.6 1168.8 118.1 1166.4 117.2C1163.9 116.2 1160.3 112.1 1160.3 110.2Z" fill="#000" stroke="#000" stroke-width="2"/>
<path d="M1171.9 113.7 L1182 112.7" fill="none" stroke="#fff" stroke-width="1.6"/>
<path d="M1185.5 114.6C1187.1 114.7 1193.1 113.9 1195 115.1C1196.9 116.2 1197.9 119.4 1196.9 121.5C1195.9 123.6 1192 126.3 1188.9 127.9C1185.9 129.6 1181.7 130.1 1178.5 131.4C1175.3 132.7 1171.6 134.2 1169.8 135.9C1168.1 137.6 1168.4 140.5 1168.1 141.5" fill="none" stroke="#000" stroke-width="5.9"/>
<path d="M1184.6 121.5C1185.6 121.2 1190.2 119.3 1190.7 119.8C1191.1 120.2 1188.9 123.1 1187.2 124.1C1185.5 125.1 1181.4 125.6 1180.3 125.8" fill="none" stroke="#000" stroke-width="4"/>
<path d="M1166.4 124.1 L1178.5 122.4" fill="none" stroke="#000" stroke-width="4.9"/>
<path d="M1161.2 141.5C1162.5 141.2 1166.8 138.6 1169 139.7C1171.1 140.9 1172.6 145.5 1174.2 148.4C1175.8 151.3 1178.9 154.5 1178.5 157.1C1178.1 159.6 1174.5 163 1171.9 163.7C1169.4 164.4 1165.2 163 1163.3 161.4C1161.3 159.8 1160.9 155.2 1160.5 154" fill="none" stroke="#000" stroke-width="5.9"/>
<path d="M1163.8 149.3C1164.5 150.1 1166.7 153.8 1168.1 154.5C1169.6 155.2 1171.7 153.8 1172.4 153.6" fill="none" stroke="#000" stroke-width="3.8"/>
<path d="M476.5 366.5 L476.0 479.0" fill="none" stroke="#000" stroke-width="6.7" stroke-linecap="square"/>
<path d="M476.5 366.6 L560.0 367.6 L664.0 369.4" fill="none" stroke="#000" stroke-width="5.2" stroke-linecap="square"/>
<path d="M664.0 369.4 L783.0 500.5" fill="none" stroke="#000" stroke-width="5.8" stroke-linecap="square"/>
<path d="M783.0 500.5 L779.5 648.6" fill="none" stroke="#000" stroke-width="6.7" stroke-linecap="square"/>
<path d="M592.0 641.5 L779.5 648.6" fill="none" stroke="#000" stroke-width="5.7" stroke-linecap="square"/>
<path d="M476.0 479.0 L592.0 641.5" fill="none" stroke="#000" stroke-width="6.2" stroke-linecap="square"/>
<path d="M783 584.7 L795 584.7" fill="none" stroke="#000" stroke-width="6.4"/>
<path d="M566 526 L619.6 526" fill="none" stroke="#000" stroke-width="5.5"/>
<path d="M605.8 522.2 L619.6 526 L605.8 529.8Z" fill="#000" stroke="#000" stroke-width="1"/>
<ellipse cx="638.1" cy="387.8" rx="25" ry="16.6" transform="rotate(0 638.1 387.8)" fill="none" stroke="#000" stroke-width="5.7"/>
<ellipse cx="638.1" cy="388.9" rx="18.7" ry="10.7" transform="rotate(0 638.1 388.9)" fill="none" stroke="#000" stroke-width="4.4"/>
<ellipse cx="638.1" cy="387" rx="13.1" ry="7.6" transform="rotate(0 638.1 387)" fill="#000" stroke="#000" stroke-width="1"/>
<path d="M631.1 384.7 L644.6 384.7" fill="none" stroke="#fff" stroke-width="1.4"/>
<path d="M613.5 424.1C613.2 420.2 614.1 416.9 617 414.6C619.9 412.3 625.9 410.8 630.8 410.3C635.7 409.7 642 410.1 646.3 411.1C650.7 412.1 654.4 413.9 656.7 416.3C659 418.8 660.5 422.5 660.2 425.8C659.9 429.1 657.6 433.3 655 436.2C652.4 439.1 648.6 441.6 644.6 443.1C640.6 444.5 635.1 445.7 630.8 444.8C626.5 443.9 621.6 441.4 618.7 437.9C615.8 434.4 613.8 428 613.5 424.1Z" fill="#000" stroke="#000" stroke-width="2"/>
<path d="M628.7 420.3 L641.2 420.3 L641.2 424.1 L628.7 424.1Z" fill="#fff" stroke="#fff" stroke-width="0.5"/>
<path d="M630.8 431 L639.4 431" fill="none" stroke="#fff" stroke-width="1.6"/>
<path d="M648.1 427.5C648.5 426.8 650.4 424.7 650.7 423.2C651 421.8 649.9 419.6 649.8 418.9" fill="none" stroke="#fff" stroke-width="1.8"/>
<path d="M621.3 420.6 L621.8 425.8" fill="none" stroke="#fff" stroke-width="1.2"/>
<path d="M624.8 426.7 L625.3 430.1" fill="none" stroke="#fff" stroke-width="1.2"/>
<path d="M636 436.2 L636.3 439.6" fill="none" stroke="#fff" stroke-width="1.2"/>
<path d="M629.9 435.3 L630.3 437.9" fill="none" stroke="#fff" stroke-width="1.2"/>
<ellipse cx="532.7" cy="422.4" rx="22.5" ry="17.3" transform="rotate(-42 532.7 422.4)" fill="#000" stroke="#000" stroke-width="2"/>
<path d="M523.7 434.4C526 434 533.7 434.4 537.5 431.9C541.3 429.3 545.3 422.8 546.5 419.2C547.7 415.7 545.1 411.8 544.8 410.3" fill="none" stroke="#fff" stroke-width="1.8"/>
<path d="M529.8 424.1C530.3 423.4 532.1 419.9 533.2 419.8C534.4 419.6 536.1 422.6 536.7 423.2" fill="none" stroke="#fff" stroke-width="1.2"/>
<path d="M549.6 436.2C551.4 431.9 553.7 427.8 559.1 425.8C564.6 423.8 576.5 423.2 582.4 424.1C588.3 424.9 591.6 427 594.5 431C597.5 435 599.5 443.1 600.1 448.3C600.6 453.4 599.8 457.8 598 462.1C596.2 466.4 593.1 471.5 589.4 474.2C585.6 476.8 580.1 478 575.5 478C570.9 478 565.7 476.2 561.7 474.2C557.7 472.1 553.6 469.3 551.4 465.5C549.1 461.8 548.5 456.6 548.2 451.7C548 446.8 547.8 440.5 549.6 436.2Z" fill="#000" stroke="#000" stroke-width="2"/>
<path d="M577.3 458.6C577.9 456.6 579.4 453.4 581.1 452.6C582.7 451.7 586.1 451.9 587.3 453.4C588.4 455 588.8 460.1 588 462.1C587.2 464.1 584.2 465.1 582.4 465.5C580.7 466 578.1 465.8 577.3 464.7C576.4 463.5 576.6 460.6 577.3 458.6Z" fill="#fff" stroke="#fff" stroke-width="1"/>
<path d="M556.5 440.5 L563.4 450" fill="none" stroke="#fff" stroke-width="1.6"/>
<path d="M562.6 436.2 L568.6 444.8" fill="none" stroke="#fff" stroke-width="1.6"/>
<path d="M566 431 L570.4 436.2" fill="none" stroke="#fff" stroke-width="1.6"/>
<path d="M583.3 429.3 L585.9 437.9" fill="none" stroke="#fff" stroke-width="1.6"/>
<path d="M559.1 456.9 L564.3 460.4" fill="none" stroke="#fff" stroke-width="1.6"/>
<path d="M570.4 463.8C570.9 465 571.8 469.3 573.8 470.7C575.8 472.2 581 472.2 582.4 472.4" fill="none" stroke="#fff" stroke-width="1.4"/>
<path d="M582 480.9C582.1 478.8 582.9 472.5 583.9 470C585 467.5 587.8 464.1 589.9 462.1C592 460.1 597.4 456.4 599.7 455.2C602.1 454 605.5 453.1 607.6 453.2C609.7 453.4 613.9 454.7 615.5 456.2C617.2 457.6 619.4 461.3 620 464.1C620.5 466.8 620.2 473.8 619.5 476.9C618.8 480.1 616.1 485.9 614.5 487.8C613 489.7 609.3 491 607.6 491.2C605.9 491.5 602.8 489.4 601.7 489.7C600.7 490.1 600.8 492.8 599.7 493.7C598.7 494.6 595.5 496.8 593.8 496.6C592.1 496.5 588.4 494.1 586.9 492.7C585.5 491.3 583.6 487.4 583 485.8C582.3 484.2 581.8 483 582 480.9Z" fill="#000" stroke="#000" stroke-width="1"/>
<path d="M588.9 473.9C589.4 471.5 591.6 466.7 592.8 465.3C594.1 463.8 597.7 462.6 598.3 463.1C598.8 463.6 597.5 467.6 597 469C596.5 470.5 594.8 471.3 594.4 473.9C594 476.6 594.5 486.6 594 488.8C593.6 490.9 591.7 490.4 591.1 489.7C590.4 489.1 589.2 485.9 588.9 483.8C588.6 481.7 588.4 476.4 588.9 473.9Z" fill="#fff" stroke="#fff" stroke-width="1"/>
<path d="M600.5 464.1C601.3 463.1 605.9 459.7 607.6 459.3C609.4 459 612.4 460 613.6 461.3C614.7 462.6 616.2 466.4 616.1 469C616 471.6 613.8 478.6 612.8 480.9C611.7 483.1 608.8 486.1 608.2 485.8C607.7 485.5 608.3 480.9 608.8 478.9C609.3 476.9 611.6 472.9 611.8 471C612 469 611.1 465.3 610.2 464.3C609.3 463.3 605.9 462.9 604.9 463.3C603.8 463.7 602.8 466.9 602.2 467C601.6 467.1 599.8 465.1 600.5 464.1Z" fill="#fff" stroke="#fff" stroke-width="1"/>
<rect x="622" y="453.5" width="23.5" height="96.5" rx="9" ry="7" fill="#fff" stroke="#000" stroke-width="4.6"/>
<path d="M627.3 463.8 L641.2 463.8" fill="none" stroke="#000" stroke-width="4.4"/>
<path d="M628.2 456 L640.3 456" fill="none" stroke="#000" stroke-width="3.5"/>
<path d="M637.7 489.7 L642.9 489.7" fill="none" stroke="#000" stroke-width="4.9"/>
<path d="M637.7 522.5 L642.9 522.5" fill="none" stroke="#000" stroke-width="4.9"/>
<path d="M637.7 539.8 L642.9 539.8" fill="none" stroke="#000" stroke-width="4.9"/>
<path d="M652.4 532.2C653.1 526.1 655 518 659.6 513.7C664.2 509.5 673.7 506.9 680.2 506.5C686.7 506.2 694.4 507.7 698.7 511.7C703 515.6 705.5 524 705.9 530.2C706.2 536.3 704 543.4 700.7 548.7C697.5 554 691.8 559.6 686.3 562C680.9 564.4 673 565 667.8 563.1C662.7 561.2 658.1 555.9 655.5 550.7C652.9 545.6 651.7 538.4 652.4 532.2Z" fill="#000" stroke="#000" stroke-width="2"/>
<ellipse cx="683.3" cy="540.5" rx="10.7" ry="14" transform="rotate(25 683.3 540.5)" fill="none" stroke="#fff" stroke-width="3"/>
<ellipse cx="684.7" cy="541.5" rx="5.3" ry="8.6" transform="rotate(25 684.7 541.5)" fill="#000" stroke="#000" stroke-width="1"/>
<path d="M681.2 532.2C680.7 533.6 678.2 537.7 678.1 540.5C678 543.2 680.2 547.3 680.6 548.7" fill="none" stroke="#fff" stroke-width="2"/>
<path d="M661.7 528.1 L665.8 526.5" fill="none" stroke="#fff" stroke-width="1.8"/>
<path d="M667.8 518.9 L672 520.9" fill="none" stroke="#fff" stroke-width="1.8"/>
<path d="M679.2 513.7 L683.3 516.8" fill="none" stroke="#fff" stroke-width="1.8"/>
<path d="M691.5 522 L696.6 526.1" fill="none" stroke="#fff" stroke-width="1.8"/>
<path d="M658.6 537.4 L662.7 538.4" fill="none" stroke="#fff" stroke-width="1.8"/>
<path d="M690.5 543.5 L692.5 547.7" fill="none" stroke="#fff" stroke-width="1.8"/>
<path d="M667.8 548.7C668.5 549.9 669.9 554.5 672 555.9C674 557.3 678.8 556.7 680.2 556.9" fill="none" stroke="#fff" stroke-width="1.6"/>
<ellipse cx="715.7" cy="564.7" rx="23" ry="18.9" transform="rotate(-48 715.7 564.7)" fill="none" stroke="#000" stroke-width="5.5"/>
<ellipse cx="717.2" cy="565.1" rx="16.9" ry="13.2" transform="rotate(-48 717.2 565.1)" fill="none" stroke="#000" stroke-width="4"/>
<ellipse cx="718.8" cy="565.1" rx="11.3" ry="8.6" transform="rotate(-48 718.8 565.1)" fill="#000" stroke="#000" stroke-width="1"/>
<path d="M716.2 567.2 L721.3 562" fill="none" stroke="#fff" stroke-width="1.4"/>
<path d="M609.3 575.4C609.5 572.4 611.2 566.4 614.4 564.1C617.5 561.8 628 558.1 632.9 557.9C637.8 557.8 647.8 560.7 651.4 563.1C655 565.4 659.1 572.4 659.6 575.4C660.2 578.4 658 583.5 655.5 585.7C653 587.9 645.2 591 641.1 591.9C637 592.7 628.5 592.5 624.7 591.9C620.8 591.2 614.4 588.9 612.3 586.7C610.3 584.5 609 578.4 609.3 575.4Z" fill="#000" stroke="#000" stroke-width="2"/>
<path d="M615.4 583.6 L618.9 577.1" fill="none" stroke="#fff" stroke-width="2.2"/>
<path d="M624.3 587.3 L626.3 579.5" fill="none" stroke="#fff" stroke-width="2.2"/>
<path d="M632.9 588.2 L632.9 579.5" fill="none" stroke="#fff" stroke-width="2.2"/>
<path d="M641.1 587.3 L639.5 579.1" fill="none" stroke="#fff" stroke-width="2.2"/>
<path d="M649.3 583.6 L646.3 577.1" fill="none" stroke="#fff" stroke-width="2.2"/>
<path d="M626.7 568.2 L641.1 568.2" fill="none" stroke="#fff" stroke-width="1.2"/>
<ellipse cx="633.5" cy="611.8" rx="22.6" ry="15.6" transform="rotate(0 633.5 611.8)" fill="none" stroke="#000" stroke-width="5.7"/>
<ellipse cx="633.9" cy="612.4" rx="16.9" ry="10.7" transform="rotate(0 633.9 612.4)" fill="none" stroke="#000" stroke-width="3.8"/>
<ellipse cx="635" cy="610.4" rx="12.3" ry="7" transform="rotate(0 635 610.4)" fill="#000" stroke="#000" stroke-width="1"/>
<path d="M630.8 607.9 L640.1 607.9" fill="none" stroke="#fff" stroke-width="1.2"/>
<path d="M845.5 374.9 L800.8 404" fill="none" stroke="#000" stroke-width="5.9"/>
<path d="M856.6 382.5 L853.2 406.5 L849 432.7" fill="none" stroke="#000" stroke-width="6.4"/>
<path d="M750.3 419.3C750.5 414 752.7 409.3 755.4 405.3C758.2 401.2 762.3 397.2 766.9 395C771.6 392.9 778.9 392.1 783.5 392.5C788.2 392.9 791.5 394.6 795 397.6C798.6 400.6 802.7 406.3 804.6 410.4C806.5 414.4 807.1 417.8 806.5 421.9C806 425.9 804 431 801.4 434.7C798.9 438.3 795 441.4 791.2 443.6C787.4 445.8 782.9 447.5 778.4 447.7C774 447.9 768.4 446.6 764.4 444.9C760.3 443.1 756.5 441.5 754.2 437.2C751.8 433 750.1 424.6 750.3 419.3Z" fill="#000" stroke="#000" stroke-width="2"/>
<ellipse cx="785.6" cy="428.9" rx="10.2" ry="15.8" transform="rotate(32 785.6 428.9)" fill="#fff" stroke="#fff" stroke-width="1"/>
<path d="M791.9 416.1C791.5 417.9 791.4 423.7 789.9 427C788.4 430.3 785.4 434 782.9 435.9C780.4 437.9 776.2 438.3 774.9 438.7" fill="none" stroke="#000" stroke-width="5.1"/>
<ellipse cx="779.7" cy="424.7" rx="3.1" ry="10.2" transform="rotate(36 779.7 424.7)" fill="none" stroke="#000" stroke-width="4.2"/>
<path d="M772.7 408.5 L775.2 412.3" fill="none" stroke="#fff" stroke-width="1"/>
<path d="M781.3 405.3 L781.3 407.8" fill="none" stroke="#fff" stroke-width="1"/>
<path d="M765 416.1 L768.5 419.3" fill="none" stroke="#fff" stroke-width="1"/>
<path d="M764.1 427.2 L765.7 427.2" fill="none" stroke="#fff" stroke-width="1"/>
<path d="M765.4 433.4 L765.4 435.9" fill="none" stroke="#fff" stroke-width="1"/>
<path d="M797.6 412.3 L799.5 413.6" fill="none" stroke="#fff" stroke-width="1"/>
<path d="M844.9 426.4C842.7 425.8 837.2 422.4 832.1 423.2C827 423.9 819.1 426.8 814.2 430.8C809.3 434.9 805.1 442.1 802.7 447.4C800.4 452.8 799.6 458 800.2 462.8C800.7 467.6 803 473.4 805.9 476.2C808.8 478.9 815.5 478.8 817.4 479.4" fill="none" stroke="#000" stroke-width="5.3"/>
<ellipse cx="840.8" cy="461.5" rx="22.7" ry="29.6" transform="rotate(24 840.8 461.5)" fill="none" stroke="#000" stroke-width="6"/>
<ellipse cx="837.2" cy="458.3" rx="10" ry="16.4" transform="rotate(30 837.2 458.3)" fill="none" stroke="#000" stroke-width="4.9"/>
<path d="M847.4 444.9C847.5 447 849.3 453.6 848.1 457.7C846.8 461.7 842.9 466.7 839.8 469.2C836.7 471.6 831.2 471.8 829.5 472.3" fill="none" stroke="#000" stroke-width="4"/>
<path d="M823.2 473C824.6 474.5 828.1 481.1 832.1 481.9C836.1 482.8 844.9 478.7 847.4 478.1" fill="none" stroke="#000" stroke-width="4"/>
<path d="M61.1 402.3 L61.1 461.8" fill="none" stroke="#000" stroke-width="7"/>
<path d="M56.9 449.8 L65.5 449.8" fill="none" stroke="#000" stroke-width="4.4"/>
<ellipse cx="61.5" cy="480.2" rx="16" ry="17.6" transform="rotate(0 61.5 480.2)" fill="none" stroke="#000" stroke-width="6.4"/>
<ellipse cx="63.1" cy="481.8" rx="6" ry="11.6" transform="rotate(25 63.1 481.8)" fill="none" stroke="#000" stroke-width="5.3"/>
<path d="M172 531.5 L406.2 664.5" fill="none" stroke="#000" stroke-width="6"/>
<path d="M160 553 L409.5 695.7" fill="none" stroke="#000" stroke-width="5.7"/>
<path d="M127 530.7C127 528.4 130.3 519.9 131.8 518.1C133.3 516.3 139.8 512.6 142.2 512.7C144.6 512.9 153.1 518.2 155.8 519.7C158.5 521.3 168.5 526.1 169.4 528.1C170.2 530.1 165.2 537.3 164.2 539.7C163.1 542.1 160.6 551.4 158.6 552.1C156.5 552.8 146.5 547.8 143.8 546.7C141.1 545.6 133.5 542.5 131.8 540.9C130.1 539.3 127 533 127 530.7Z" fill="#000" stroke="#000" stroke-width="1.5"/>
<path d="M184.1 540.7C182.8 542.7 177.2 549 176.2 552.7C175.1 556.4 177.5 561.2 177.7 562.9" fill="none" stroke="#000" stroke-width="8.2"/>
<path d="M404.3 663.5 L526.7 636.3" fill="none" stroke="#000" stroke-width="5.9"/>
<path d="M549.6 649.9 L558.6 670.3" fill="none" stroke="#000" stroke-width="5.3"/>
<path d="M418.9 766.7 L469.8 747.7" fill="none" stroke="#000" stroke-width="5.9"/>
<path d="M460.8 744.8 L479.8 743.4 L467.8 755.7Z" fill="#000" stroke="#000" stroke-width="1"/>
<path d="M410.9 672.9C410 675.4 405.5 683 405.9 687.8C406.2 692.7 409.9 698.2 412.9 701.8C415.9 705.5 422 708.5 423.8 709.8" fill="none" stroke="#000" stroke-width="5.5"/>
<path d="M404.3 665.9C406.5 666.5 413.6 668.9 417.9 669.9C422.1 670.9 425.8 670 429.8 671.9C433.8 673.7 439.8 679.4 441.8 680.9" fill="none" stroke="#000" stroke-width="5.5"/>
<path d="M422.3 697.8C423.5 695.8 427.2 688.2 429.8 685.8C432.4 683.5 436.5 684.2 437.8 683.8" fill="none" stroke="#000" stroke-width="5.1"/>
<path d="M425.8 697.8C427 692.8 429.8 688 433.8 684.8C437.8 681.7 444.2 678.7 449.8 678.9C455.5 679 463.4 682.9 467.8 685.8C472.2 688.8 475.3 693.2 476.2 696.8C477 700.5 472.2 704 472.8 707.8C473.4 711.6 478.9 715.8 479.8 719.8C480.6 723.8 480.1 728.6 477.8 731.8C475.4 734.9 470.4 737.9 465.8 738.8C461.1 739.6 454.8 738.6 449.8 736.8C444.8 734.9 439.7 731.4 435.8 727.8C432 724.1 428.5 719.8 426.8 714.8C425.2 709.8 424.7 702.8 425.8 697.8Z" fill="none" stroke="#000" stroke-width="6.8"/>
<ellipse cx="460.8" cy="696.8" rx="11.6" ry="8" transform="rotate(5 460.8 696.8)" fill="#000" stroke="#000" stroke-width="1"/>
<path d="M454.8 695.4 L461.8 695.4" fill="none" stroke="#fff" stroke-width="1.2"/>
<path d="M467.8 692.8 L467.8 699.8" fill="none" stroke="#fff" stroke-width="1.2"/>
<ellipse cx="461.4" cy="720.2" rx="11" ry="6.8" transform="rotate(-8 461.4 720.2)" fill="none" stroke="#000" stroke-width="5.1"/>
<path d="M455.8 720.2 L464.2 720.2" fill="none" stroke="#000" stroke-width="3.3"/>
<path d="M433.8 691.8C435.8 693 441.8 696.8 445.8 698.8C449.8 700.8 455.8 703 457.8 703.8" fill="none" stroke="#000" stroke-width="5.7"/>
<path d="M430.8 706.8C432.7 708.6 438.3 715.3 441.8 717.8C445.3 720.3 450.1 721.1 451.8 721.8" fill="none" stroke="#000" stroke-width="5.1"/>
<path d="M457.8 703.8 L459.8 713.8" fill="none" stroke="#000" stroke-width="7.5"/>
<path d="M486.7 741.8C486.9 739.4 488.8 735.6 489.7 733.8C490.7 731.9 493.3 729.6 493.7 727.8C494.1 725.9 491.9 721.3 492.7 719.8C493.5 718.2 497.7 716.1 499.7 716.2C501.7 716.3 505.5 719.5 507.7 720.8C510 722.1 514.7 723.7 516.7 725.8C518.7 727.9 522.7 734.2 522.7 736.8C522.7 739.3 517.8 742.4 516.7 744.8C515.6 747.1 516.2 752.7 514.7 754.7C513.2 756.7 508.2 759.3 505.7 759.7C503.2 760.1 498 758.8 495.7 757.7C493.5 756.7 489.9 753.9 488.7 751.7C487.5 749.6 486.6 744.2 486.7 741.8Z" fill="#000" stroke="#000" stroke-width="2"/>
<ellipse cx="505.7" cy="739.4" rx="3.6" ry="8" transform="rotate(10 505.7 739.4)" fill="#fff" stroke="#fff" stroke-width="1"/>
<ellipse cx="496.7" cy="744.2" rx="1.4" ry="3.6" transform="rotate(10 496.7 744.2)" fill="#fff" stroke="#fff" stroke-width="1"/>
<ellipse cx="493.7" cy="774.1" rx="8.8" ry="12.4" transform="rotate(-15 493.7 774.1)" fill="#000" stroke="#000" stroke-width="1"/>
<path d="M578.9 715.9 L598.9 764" fill="none" stroke="#000" stroke-width="5.7"/>
<path d="M539 776.9C538.6 773.8 539.9 767.4 541.3 765.5C542.6 763.6 548.2 761.4 550.4 760.9C552.5 760.5 558.4 762.8 559.8 762C561.2 761.2 561 755.6 562.2 754.4C563.4 753.2 567.9 751.5 570.1 751.8C572.3 752.2 578.2 756.1 580.7 757.2C583.2 758.2 588.9 759.9 591.3 760.9C593.8 762 600.1 764.6 602 766.3C603.8 767.9 606.4 773.1 607.3 775.4C608.2 777.7 607.3 783.7 609.6 786C611.8 788.3 622.5 792.4 626.3 795.1C630 797.8 639 806.1 641.4 808.8C643.9 811.4 647.2 815.7 647.5 817.9C647.9 820 645.9 825.3 644.5 827C643.1 828.7 637.7 831.9 635.4 832.3C633.1 832.7 627.6 831.2 624.7 830C621.9 828.9 614.3 824.4 611.1 822.4C607.9 820.5 599.7 813.9 597.4 813.3C595.1 812.8 593.5 816.9 591.3 817.9C589.2 818.8 581.9 821.8 579.2 821.7C576.5 821.5 570.3 818.2 568.6 816.4C566.8 814.5 565.3 807.9 564 805.7C562.8 803.5 560.3 799 558 797.4C555.6 795.8 546.5 794.5 544.3 792.1C542.1 789.7 539.3 780 539 776.9Z" fill="#000" stroke="#000" stroke-width="2"/>
<path d="M545 771.6C544.9 770.8 549.3 770.2 550.4 770.8C551.4 771.4 552 775.2 551.1 775.4C550.2 775.5 545.2 772.3 545 771.6Z" fill="#fff" stroke="#fff" stroke-width="1"/>
<path d="M548.8 779.9C549.3 778.9 552 778.4 552.6 779.2C553.3 779.9 553.1 783.5 552.6 784.5C552.1 785.5 550.2 786 549.6 785.2C549 784.5 548.3 780.9 548.8 779.9Z" fill="#fff" stroke="#fff" stroke-width="1"/>
<path d="M556.4 776.9C557.7 775.4 562.5 775.4 564 776.9C565.5 778.4 566 783 565.5 786C565 789 563.1 794.1 561 795.1C558.8 796.1 553.4 793.6 552.6 792.1C551.9 790.6 555.8 788.5 556.4 786C557.1 783.5 555.2 778.4 556.4 776.9Z" fill="#fff" stroke="#fff" stroke-width="1"/>
<path d="M564 760.9C565.3 760.2 569.6 759.6 571.6 760.2C573.6 760.8 575.7 763.5 576.2 764.7C576.7 766 575.9 767.5 574.6 767.8C573.4 768 570.3 766.8 568.6 766.3C566.8 765.8 564.8 765.6 564 764.7C563.3 763.9 562.8 761.7 564 760.9Z" fill="#fff" stroke="#fff" stroke-width="1"/>
<ellipse cx="568.9" cy="769" rx="2.7" ry="1.5" transform="rotate(0 568.9 769)" fill="#000" stroke="#000" stroke-width="1"/>
<path d="M553.4 768.5 L565.5 775.4" fill="none" stroke="#fff" stroke-width="1.4"/>
<path d="M578.1 820.7C577.5 820.2 575.4 819 574.2 817.7C573.1 816.4 572.1 814.8 571.3 813.1C570.5 811.3 569.9 809.2 569.6 807.1C569.2 804.9 569 802.6 569.1 800.2C569.2 797.8 569.5 795.3 570 792.9C570.5 790.4 571.2 787.9 572.1 785.6C573 783.2 574.2 780.9 575.4 778.8C576.7 776.7 578.1 774.8 579.6 773.1C581.1 771.4 582.7 769.9 584.4 768.7C586 767.6 587.8 766.7 589.5 766.1C591.1 765.5 592.9 765.2 594.5 765.3C596.1 765.4 598.3 766.3 599.1 766.5" fill="none" stroke="#fff" stroke-width="2.4"/>
<path d="M580.3 814.5C579.9 814 578.4 812.9 577.7 811.7C577 810.6 576.3 809.2 575.9 807.7C575.5 806.3 575.2 804.5 575 802.8C574.9 801 574.9 799.1 575.1 797.2C575.4 795.3 575.7 793.3 576.2 791.4C576.8 789.5 577.5 787.5 578.3 785.7C579 783.9 580 782.1 581 780.6C582 779 583.2 777.5 584.4 776.3C585.6 775.1 586.8 774 588.1 773.2C589.3 772.4 590.6 771.9 591.9 771.6C593.1 771.2 594.9 771.4 595.5 771.4" fill="none" stroke="#fff" stroke-width="4.6"/>
<path d="M584.6 808.3C584.4 808 583.7 807.1 583.4 806.2C583 805.4 582.8 804.4 582.7 803.3C582.5 802.2 582.5 800.9 582.6 799.7C582.6 798.4 582.8 797 583.1 795.7C583.3 794.3 583.7 792.9 584.1 791.5C584.6 790.2 585.1 788.8 585.7 787.6C586.3 786.3 586.9 785.1 587.6 784.1C588.3 783 589.1 782 589.8 781.2C590.6 780.4 591.4 779.7 592.1 779.2C592.9 778.7 594 778.4 594.4 778.2" fill="none" stroke="#fff" stroke-width="4.2"/>
<path d="M580.7 779.9C581.7 779.4 584.3 777.3 586.8 776.9C589.3 776.5 594.4 777.5 595.9 777.6" fill="none" stroke="#fff" stroke-width="1.4"/>
<path d="M608.8 793.6C609.7 793.8 612.9 794.5 614.1 795.1C615.4 795.7 616 797 616.4 797.4" fill="none" stroke="#fff" stroke-width="2.6"/>
<path d="M605 801.2 L611.1 802.7" fill="none" stroke="#fff" stroke-width="1.4"/>
<path d="M618.7 804.2C618 805.5 615.1 809.5 614.9 811.8C614.6 814.1 616.8 816.9 617.2 817.9" fill="none" stroke="#fff" stroke-width="2.6"/>
<path d="M624.7 808C624.2 809.1 622 812.7 621.7 814.8C621.5 817 623 819.9 623.2 820.9" fill="none" stroke="#fff" stroke-width="1.6"/>
<ellipse cx="636.6" cy="820.2" rx="4.3" ry="6.1" transform="rotate(15 636.6 820.2)" fill="#fff" stroke="#fff" stroke-width="1"/>
<path d="M595.9 807.2 L600.5 809.5" fill="none" stroke="#fff" stroke-width="1.4"/>
<path d="M72 681.9C70.8 680.4 66.4 676.4 65 672.9C63.6 669.4 63.1 665.2 63.6 660.9C64.1 656.7 65.2 651 68 647.4C70.7 643.8 75.3 641 80 639.4C84.6 637.7 90.9 636.8 95.9 637.4C100.9 638 106.3 640 109.9 643C113.5 645.9 116 651.8 117.5 655C119 658.1 118.7 660.8 118.9 661.9" fill="none" stroke="#000" stroke-width="5.7"/>
<ellipse cx="91.3" cy="655.4" rx="12.4" ry="7.2" transform="rotate(-5 91.3 655.4)" fill="none" stroke="#000" stroke-width="4.7"/>
<ellipse cx="89.3" cy="656.9" rx="8" ry="3.4" transform="rotate(-5 89.3 656.9)" fill="none" stroke="#000" stroke-width="4"/>
<path d="M71 652C70.7 654.1 68.1 661.3 69.6 664.9C71.1 668.6 78.2 672.4 80 673.9" fill="none" stroke="#000" stroke-width="4.4"/>
<path d="M75 653C75 654.6 73.6 660.4 75 662.9C76.3 665.4 81.6 667.1 82.9 667.9" fill="none" stroke="#000" stroke-width="3.5"/>
<path d="M98.9 645C100.4 645.6 106.1 647.1 107.9 649C109.7 650.8 109.6 654.8 109.9 656" fill="none" stroke="#000" stroke-width="4"/>
<path d="M80 673.9 L84.9 674.9 L85.9 681.9" fill="none" stroke="#000" stroke-width="4"/>
<path d="M118.9 661.9C121.4 663.3 129.4 667.1 133.9 669.9C138.4 672.8 142.5 675.1 145.8 678.9C149.2 682.7 151.8 687.9 153.8 692.9C155.8 697.9 156.9 702.7 157.8 708.9C158.8 715 159.2 726.3 159.4 729.8" fill="none" stroke="#000" stroke-width="5.3"/>
<path d="M97.9 672.9 L114.3 664.5 L118.9 661.9" fill="none" stroke="#000" stroke-width="5.3"/>
<path d="M97.9 672.9 L95.9 677.3" fill="none" stroke="#000" stroke-width="5.3"/>
<path d="M91.9 681.9C94.9 683.1 104.9 686.8 109.9 688.9C114.9 691 118.9 691.8 121.9 694.5C124.9 697.2 126.2 700.8 127.9 704.9C129.5 708.9 130.2 715.5 131.9 718.8C133.5 722.2 134 724 137.9 725.2C141.7 726.4 152 725.9 154.8 726" fill="none" stroke="#000" stroke-width="5.3"/>
<path d="M96.9 677.3C100.1 678.6 110.4 682.3 115.9 684.9C121.4 687.5 126.5 689.6 129.9 692.9C133.2 696.2 134.5 700.5 135.9 704.9C137.2 709.2 137.5 716.5 137.9 718.8" fill="none" stroke="#000" stroke-width="4"/>
<path d="M105.9 690.9C106.9 693.9 109.7 702.8 111.9 708.9C114.1 714.9 117.7 724.2 118.9 727.2" fill="none" stroke="#000" stroke-width="6.4"/>
<path d="M129.9 695.3 L140.9 688.1" fill="none" stroke="#000" stroke-width="5.7"/>
<path d="M115.9 732.8C114.6 730.8 109.6 724.8 107.9 720.8C106.2 716.9 107 712.8 105.9 708.9C104.8 704.9 104.2 700.2 101.5 697.3C98.9 694.4 94.2 693.3 89.9 691.3C85.7 689.3 80 686 76 685.3C71.9 684.6 67.5 685.4 65.6 687.3C63.6 689.2 64.1 693.9 64.4 696.9C64.6 699.9 64.4 703.5 67 705.3C69.6 707 76.7 705.7 80 707.3C83.2 708.9 84.9 710.4 86.3 714.9C87.7 719.3 88 730.7 88.3 733.8" fill="none" stroke="#000" stroke-width="6.4"/>
<path d="M74.4 695.3C77 696.2 86 698.6 89.9 700.9C93.9 703.1 96.2 704 97.9 708.9C99.7 713.7 99.9 726.3 100.3 729.8" fill="none" stroke="#000" stroke-width="6.4"/>
<path d="M74.4 695.3 L73.6 700.9 L80 707.3" fill="none" stroke="#000" stroke-width="4.4"/>
<path d="M108.3 745.2C107.2 744.1 105 740.7 101.9 738.8C98.9 737 94.9 734.8 89.9 734C84.9 733.2 77 732.8 72 734C67 735.2 62.8 737.8 60 741.2C57.2 744.7 55.7 750.7 55 754.8C54.3 758.9 54.4 761.7 55.6 765.8C56.8 769.8 59 775.3 62.4 779.2C65.8 783 70.7 786.5 76 789.1C81.2 791.8 88.3 793.8 93.9 795.1C99.6 796.5 105.1 797 109.9 797.1C114.7 797.3 120.7 796.1 122.9 795.9" fill="none" stroke="#000" stroke-width="5.9"/>
<ellipse cx="80" cy="752.8" rx="15.2" ry="10" transform="rotate(-5 80 752.8)" fill="none" stroke="#000" stroke-width="4.7"/>
<ellipse cx="78.4" cy="754.8" rx="9" ry="4.8" transform="rotate(-5 78.4 754.8)" fill="none" stroke="#000" stroke-width="4"/>
<path d="M62.4 752.8C62.8 755.5 62.7 764.8 65 768.8C67.2 772.8 74.1 775.4 76 776.8" fill="none" stroke="#000" stroke-width="4"/>
<path d="M76.4 772.8 L76.4 783.7" fill="none" stroke="#000" stroke-width="5.5"/>
<path d="M80 772.8 L80 782.7" fill="none" stroke="#000" stroke-width="3.3"/>
<path d="M89.9 773.8 L104.3 764.8 L109.9 783.1Z" fill="none" stroke="#000" stroke-width="5.3"/>
<path d="M83.9 782.7C86.3 783.2 93.6 785.6 97.9 785.7C102.2 785.9 107.2 785.2 109.9 783.7C112.6 782.2 113.9 781.9 113.9 776.8C113.9 771.6 110.6 756.8 109.9 752.8" fill="none" stroke="#000" stroke-width="4.4"/>
<path d="M92.9 746.8C94.4 747.8 99.4 752.5 101.9 752.8C104.4 753.1 106.9 749.5 107.9 748.8" fill="none" stroke="#000" stroke-width="4.4"/>
<path d="M118.9 736.8 L126.3 823.1 L133.9 824.7 L153.8 809.1" fill="none" stroke="#000" stroke-width="7.7"/>
<path d="M132.3 748.8 L136.3 817.7" fill="none" stroke="#000" stroke-width="4.4"/>
<path d="M150.8 752.8 L158.2 841.1 L165.8 841.9 L190.8 822.7" fill="none" stroke="#000" stroke-width="7.7"/>
<path d="M160.8 774.8 L165.2 834.7" fill="none" stroke="#000" stroke-width="4.4"/>
<path d="M124.3 739.2 L131.9 728.8 L137.9 731.2 L130.3 743.2Z" fill="none" stroke="#000" stroke-width="4.9"/>
<path d="M140.3 744.8 L147.8 736 L157.8 740.8 L149.8 750Z" fill="none" stroke="#000" stroke-width="4.9"/>
<path d="M109.9 732.8 L117.9 739.8" fill="none" stroke="#000" stroke-width="4.4"/>
<ellipse cx="176.2" cy="746.8" rx="21" ry="12.4" transform="rotate(-6 176.2 746.8)" fill="none" stroke="#000" stroke-width="5.3"/>
<ellipse cx="174.2" cy="745.6" rx="8" ry="3.4" transform="rotate(-6 174.2 745.6)" fill="none" stroke="#000" stroke-width="4.4"/>
<path d="M155.8 753.8C158.2 755.4 164.2 762 169.8 763.2C175.5 764.3 184.9 763.1 189.8 760.8C194.7 758.5 197.8 751.1 199.4 749.2" fill="none" stroke="#000" stroke-width="5.1"/>
<path d="M164.2 768 L194.2 762.8" fill="none" stroke="#000" stroke-width="2.8"/>
<path d="M198.8 736.8C199.3 738.2 201.3 741.5 201.8 744.8C202.3 748.1 202.6 753.5 201.8 756.8C200.9 760.1 197.6 763.4 196.8 764.8" fill="none" stroke="#000" stroke-width="4.9"/>
<path d="M172.2 776.8C171.3 779.1 167.4 786.4 167 790.7C166.6 795.1 167.5 800 169.8 802.7C172.1 805.4 179 806.4 180.8 807.1" fill="none" stroke="#000" stroke-width="5.1"/>
<path d="M194.8 776.8C193 779.1 185.6 785.4 184.2 790.7C182.8 796.1 184.5 804 186.2 808.7C187.8 813.4 192.8 817.4 194.2 819.1" fill="none" stroke="#000" stroke-width="5.1"/>
<path d="M172.2 776.8 L189.8 771.8 L198.2 769.2" fill="none" stroke="#000" stroke-width="4.7"/>
<path d="M198.2 736.8C199.5 734.4 203.2 724 206.2 722C209.1 720 214.5 724.4 216.1 724.8" fill="none" stroke="#000" stroke-width="5.3"/>
<path d="M216.1 724.8C217.7 726.2 225.1 729.8 225.7 732.8C226.4 735.8 222.4 740.5 220.1 742.8C217.9 745.1 213.5 746.1 212.1 746.8" fill="none" stroke="#000" stroke-width="5.5"/>
<path d="M225.7 724.4 L247.7 716.1 L262.1 725.2 L275.6 738.8" fill="none" stroke="#000" stroke-width="5.3"/>
<path d="M275.6 738.8C276 740.8 280.3 747.1 278 750.8C275.8 754.5 264.7 759.1 262.1 760.8" fill="none" stroke="#000" stroke-width="5.3"/>
<path d="M225.7 724.4 L223.7 730.8" fill="none" stroke="#000" stroke-width="4.4"/>
<path d="M180.8 807.1C182.3 808.7 186.3 814 189.8 816.7C193.3 819.4 197.4 820.4 201.8 823.1C206.1 825.8 211.7 830.4 215.7 833.1C219.7 835.7 221.4 836.7 225.7 839.1C230 841.4 236.4 844.4 241.7 847C247 849.7 253 853.2 257.7 855C262.3 856.8 267.3 856.8 269.6 857.8C272 858.8 271.6 860.5 272 861" fill="none" stroke="#000" stroke-width="5.3"/>
<path d="M196.9 771.4 L211.7 774.7 L308.7 826.5" fill="none" stroke="#000" stroke-width="5.3"/>
<path d="M261 759.9C265.9 762.4 297.4 777.7 303.2 781.5C309 785.3 309.5 789.1 310.8 792.8C312 796.5 313.2 808.2 313.7 813.4C314.1 818.5 314.4 834.4 314.5 837.2" fill="none" stroke="#000" stroke-width="5.3"/>
<path d="M292.3 824.7C289.8 825 281.3 833 278.5 837C275.7 841 271.8 850.3 271.3 854.5C270.8 858.7 273.4 866.1 275 868.5C276.6 870.8 282.3 872.6 283.6 872.2C285 871.7 285.4 866.9 285.3 864.8C285.2 862.6 282.7 858.9 282.8 856.1C282.9 853.4 284.2 847.1 286.1 844.2C288 841.3 296.4 836.9 297.2 834.3C298 831.7 294.8 824.3 292.3 824.7Z" fill="#000" stroke="#000" stroke-width="1.5"/>
<path d="M297.2 834.3 L314.5 838 L363.8 867.2" fill="none" stroke="#000" stroke-width="5.3"/>
<path d="M284 865.2 L321.1 885.7" fill="none" stroke="#000" stroke-width="5.3"/>
<path d="M281.6 797.3 L298.4 792" fill="none" stroke="#000" stroke-width="7.5"/>
<path d="M284.3 893.8 L315.9 885.4 L363.8 867.5 L409.7 849.9" fill="none" stroke="#000" stroke-width="5.3"/>
<path d="M337.9 885.4 L358.8 872.3" fill="none" stroke="#000" stroke-width="4"/>
<path d="M409.7 849.9C411.4 849.7 416.4 848.1 419.7 848.5C423.1 848.9 424.7 851.9 429.7 852.3C434.7 852.7 443 850.9 449.7 851.1C456.3 851.3 462.9 853 469.6 853.5C476.4 854 486.6 854.2 490 854.3" fill="none" stroke="#000" stroke-width="5.3"/>
<path d="M284.3 893.8C284.1 896.5 282.5 905.1 282.9 909.8C283.4 914.5 284.8 918.5 286.9 921.8C289.1 925.1 293.1 927.1 295.9 929.8C298.8 932.4 301.9 934.4 303.9 937.8C305.9 941.1 306.9 945.8 307.9 949.7C308.9 953.7 308.2 957.7 309.9 961.7C311.6 965.7 314.6 969.7 317.9 973.7C321.2 977.7 325.5 982 329.9 985.7C334.2 989.3 339.2 992.7 343.8 995.7C348.5 998.7 352.8 1001.8 357.8 1003.7C362.8 1005.5 368.5 1007.1 373.8 1006.9C379.1 1006.6 385.1 1003.9 389.8 1002.1C394.4 1000.2 395.8 998.3 401.8 995.7C407.7 993 421.7 987.7 425.7 986.1" fill="none" stroke="#000" stroke-width="5.5"/>
<path d="M287.9 900.8C290.3 901.3 297.6 902.5 301.9 903.4C306.2 904.3 311.9 905.7 313.9 906.2" fill="none" stroke="#000" stroke-width="4.9"/>
<path d="M313.9 906.2C314.2 904.8 314.8 900.2 315.9 897.8C317 895.4 317.3 893.2 320.3 891.8C323.3 890.4 329.6 889.4 333.9 889.4C338.1 889.4 341.9 890.4 345.8 891.8C349.8 893.2 353.8 894.8 357.8 897.8C361.8 900.8 366.1 905.8 369.8 909.8C373.5 913.8 377.1 917.8 379.8 921.8C382.5 925.8 384.4 929.8 385.8 933.8C387.2 937.8 386.2 941.8 388.2 945.8C390.2 949.7 394.8 954.4 397.8 957.7C400.7 961.1 403.8 962.4 405.8 965.7C407.7 969 408.9 974.1 409.7 977.7C410.6 981.3 410.7 985.7 410.9 987.3" fill="none" stroke="#000" stroke-width="5.1"/>
<path d="M313.9 906.2C314.2 910.1 315.9 921.9 315.9 929.8C315.9 937.7 314.2 949.7 313.9 953.7" fill="none" stroke="#000" stroke-width="4.9"/>
<path d="M319.9 903.8C321.6 899.8 325.9 901.5 329.9 901.8C333.9 902.2 339.5 903.8 343.8 905.8C348.2 907.8 352.2 910.5 355.8 913.8C359.5 917.1 362.8 921.5 365.8 925.8C368.8 930.1 371.8 934.8 373.8 939.8C375.8 944.8 376.8 950.1 377.8 955.7C378.8 961.4 379.1 968 379.8 973.7C380.5 979.4 383.2 986.6 382.2 989.7C381.2 992.7 377.2 992.1 373.8 992.1C370.4 992.1 366.1 991.4 361.8 989.7C357.5 987.9 352.5 985 347.8 981.7C343.2 978.4 337.8 974 333.9 969.7C329.9 965.4 326.4 960.4 324.3 955.7C322.2 951.1 321.8 946.7 321.1 941.8C320.4 936.8 320.1 932.1 319.9 925.8C319.7 919.5 318.2 907.8 319.9 903.8Z" fill="none" stroke="#000" stroke-width="5.3"/>
<path d="M315.9 907.8C316.2 906.1 314.9 900.2 317.9 897.8C320.9 895.5 328.5 893.7 333.9 893.8C339.2 894 344.8 895.8 349.8 898.8C354.8 901.8 359.7 907 363.8 911.8C368 916.6 371.8 922.1 374.8 927.8C377.8 933.4 380.3 940.1 381.8 945.8C383.3 951.4 383.5 959.1 383.8 961.7" fill="none" stroke="#000" stroke-width="3.3"/>
<path d="M313.9 955.7C314.7 958.1 316.2 965.6 318.9 969.7C321.6 973.9 325.7 977.2 329.9 980.7C334 984.2 339 987.7 343.8 990.7C348.7 993.7 353.8 996.9 358.8 998.7C363.8 1000.4 369 1001.4 373.8 1001.3C378.6 1001.1 385.4 998.3 387.8 997.7" fill="none" stroke="#000" stroke-width="3.3"/>
<path d="M328.9 889.8 L329.9 894.8" fill="none" stroke="#000" stroke-width="3.8"/>
<path d="M353.8 895.8 L351.4 900.2" fill="none" stroke="#000" stroke-width="3.8"/>
<path d="M369.8 909.8 L366.8 913.4" fill="none" stroke="#000" stroke-width="3.8"/>
<path d="M380.8 927.8 L376.2 929.8" fill="none" stroke="#000" stroke-width="3.8"/>
<path d="M315.9 963.7 L320.9 961.7" fill="none" stroke="#000" stroke-width="3.8"/>
<path d="M329.9 984.7 L333.9 979.7" fill="none" stroke="#000" stroke-width="3.8"/>
<path d="M357.8 1002.1 L359.4 997.7" fill="none" stroke="#000" stroke-width="3.8"/>
<path d="M377.8 1004.7 L377.8 999.7" fill="none" stroke="#000" stroke-width="3.8"/>
<path d="M299.9 893.8 L302.3 898.8" fill="none" stroke="#000" stroke-width="3.8"/>
<path d="M309.9 889.8 L311.9 895.8" fill="none" stroke="#000" stroke-width="3.8"/>
<ellipse cx="297.1" cy="913.8" rx="5.6" ry="8.8" transform="rotate(-8 297.1 913.8)" fill="none" stroke="#000" stroke-width="5.5"/>
<ellipse cx="396.2" cy="976.9" rx="5.6" ry="8.8" transform="rotate(-8 396.2 976.9)" fill="none" stroke="#000" stroke-width="5.5"/>
<path d="M387.8 949.7C389.4 951.4 395.4 956.4 397.8 959.7C400.1 963.1 401.1 968 401.8 969.7" fill="none" stroke="#000" stroke-width="3.8"/>
<path d="M410.9 987.3 L425.7 979.7" fill="none" stroke="#000" stroke-width="5.3"/>
<path d="M437.7 860.9C441 862.4 452.7 866.4 457.7 869.9C462.7 873.4 466 877.9 467.7 881.9C469.3 885.8 467.7 891.8 467.7 893.8" fill="none" stroke="#000" stroke-width="6"/>
<path d="M412.1 898.8 L463.7 882.3" fill="none" stroke="#000" stroke-width="7.7"/>
<path d="M490.3 852.4C493.8 851.1 506.2 846.6 511.8 845C517.4 843.3 520.1 841.9 523.8 842.4C527.5 842.9 530.8 845 533.8 848C536.8 850.9 539.6 855.3 541.8 860C544 864.6 546.6 870.9 547 875.9C547.4 880.9 547 886.6 544.2 889.9C541.3 893.2 534.9 893.9 529.8 895.9C524.7 897.9 517.5 899.8 513.8 901.9C510.2 903.9 509.4 905.6 507.8 908.3C506.2 910.9 504.8 916.3 504.2 917.9" fill="none" stroke="#000" stroke-width="5.5"/>
<path d="M423.6 933.8 L430.4 1013.7 L438.3 1015.7 L456.3 1004.1" fill="none" stroke="#000" stroke-width="7"/>
<path d="M423.6 933.8 L434.9 912.3" fill="none" stroke="#000" stroke-width="5.5"/>
<path d="M432.9 906.9C434.6 905.9 440.1 900.4 442.9 900.9C445.8 901.4 447.4 906 449.9 909.9C452.5 913.7 456.9 921.5 458.3 923.8" fill="none" stroke="#000" stroke-width="7"/>
<path d="M434.3 941.8 L439.1 1007.7" fill="none" stroke="#000" stroke-width="4.2"/>
<path d="M428 934.2 L456.3 946.8" fill="none" stroke="#000" stroke-width="4.4"/>
<ellipse cx="444.3" cy="928.2" rx="5.6" ry="5.6" transform="rotate(0 444.3 928.2)" fill="none" stroke="#000" stroke-width="5.5"/>
<circle cx="444.3" cy="928.2" r="1.6" fill="#000"/>
<path d="M458.3 923.8C459.6 923.8 464 923.5 465.9 923.8C467.8 924.2 469.2 925.5 469.9 925.8" fill="none" stroke="#000" stroke-width="4.4"/>
<path d="M451.5 947.8 L460.3 1029.7" fill="none" stroke="#000" stroke-width="7.4"/>
<path d="M464.3 1026.7 L498.2 1010.7" fill="none" stroke="#000" stroke-width="5.7"/>
<path d="M456.3 946.8 L459.9 941.8 L457.9 937.8" fill="none" stroke="#000" stroke-width="4.4"/>
<path d="M462 1028 L462.9 1110" stroke="#000" stroke-width="6" fill="none"/>
<path d="M458.5 1044.5 L467.5 1044.5 M458.5 1104 L465 1104" stroke="#000" stroke-width="3.4" fill="none"/>
<ellipse cx="485.5" cy="928.6" rx="17.6" ry="7.2" transform="rotate(-4 485.5 928.6)" fill="none" stroke="#000" stroke-width="5.1"/>
<ellipse cx="484.9" cy="928.6" rx="8" ry="2.8" transform="rotate(-4 484.9 928.6)" fill="none" stroke="#000" stroke-width="4.7"/>
<path d="M458.3 940.2C461.9 941.6 472.3 947.5 479.9 948.2C487.5 948.9 498.6 946.5 503.8 944.2C509 941.9 509.8 935.9 511 934.2" fill="none" stroke="#000" stroke-width="5.1"/>
<path d="M459.9 946.2C463.2 947.5 471.7 953.9 479.9 954.2C488 954.5 504 949.2 508.8 948.2" fill="none" stroke="#000" stroke-width="5.1"/>
<path d="M477.5 910.9 L502.2 904.9" fill="none" stroke="#000" stroke-width="6.6"/>
<path d="M483.9 917.9 L499.8 915.9" fill="none" stroke="#000" stroke-width="5.5"/>
<path d="M498.8 903.9 L503.8 917.9" fill="none" stroke="#000" stroke-width="6"/>
<path d="M467.9 941.8C470.6 942.7 477.9 946.8 483.9 946.8C489.9 946.8 500.5 942.7 503.8 941.8" fill="none" stroke="#000" stroke-width="3.3"/>
<path d="M507.8 908.3C509.8 909.2 515.1 913.5 519.8 913.9C524.5 914.2 529.1 912.1 535.8 910.3C542.4 908.4 554.1 903.1 559.7 902.9C565.4 902.7 566.4 906.4 569.7 908.9C573.1 911.4 576.4 914.7 579.7 917.9C583 921 587.6 924.2 589.7 927.8C591.8 931.5 593.1 936.2 592.1 939.8C591.1 943.5 587.4 947.1 583.7 949.8C580 952.5 575.1 954.4 569.7 955.8C564.4 957.2 556.7 958.8 551.8 958.2C546.8 957.6 542.1 954.2 539.8 952.2C537.4 950.2 538.1 947.2 537.8 946.2" fill="none" stroke="#000" stroke-width="5.5"/>
<path d="M535.8 917.5C539.4 916.9 551.4 913.2 557.7 913.9C564.1 914.5 571.1 920.2 573.7 921.5" fill="none" stroke="#000" stroke-width="5.3"/>
<path d="M529.8 933.8 L547.8 928.8 L580.7 925.8" fill="none" stroke="#000" stroke-width="7.5"/>
<path d="M539.8 937.8C543.1 938.5 553.1 941.8 559.7 941.8C566.4 941.8 576.1 940.2 579.7 937.8C583.4 935.5 581.4 929.5 581.7 927.8" fill="none" stroke="#000" stroke-width="5.3"/>
<path d="M511.8 917.9C513.2 918.2 517.1 918.5 519.8 919.9C522.5 921.2 526.1 923.5 527.8 925.8C529.5 928.2 529.5 932.5 529.8 933.8" fill="none" stroke="#000" stroke-width="5.3"/>
<path d="M507.8 915.9 L514.8 933.8 L511.8 949.8" fill="none" stroke="#000" stroke-width="5.3"/>
<path d="M555.8 917.9C556.4 917.4 558.1 914.7 559.7 914.9C561.4 915 564.7 918.2 565.7 918.9" fill="none" stroke="#000" stroke-width="5.5"/>
<path d="M511.8 949.8C511.4 953.1 509.7 964.5 509 969.8C508.4 975.1 508.7 978.4 507.8 981.8C507 985.1 504.5 986.1 503.8 989.7C503.2 993.4 501.8 999.4 503.8 1003.7C505.8 1008 512.5 1011.4 515.8 1015.7C519.1 1020 521.5 1024.7 523.8 1029.7C526.1 1034.7 527.1 1040.7 529.8 1045.7C532.5 1050.6 535.4 1055.6 539.8 1059.6C544.1 1063.6 550.1 1067.2 555.8 1069.6C561.4 1072 567.7 1073.5 573.7 1074C579.7 1074.5 586 1074.1 591.7 1072.8C597.4 1071.5 603.5 1069.2 607.7 1066C611.9 1062.8 615.7 1057.7 616.9 1053.6C618.1 1049.6 617.1 1044.7 614.9 1041.7C612.7 1038.7 607.9 1036.7 603.7 1035.7C599.5 1034.7 593.7 1034.7 589.7 1035.7C585.7 1036.7 582 1039.6 579.7 1041.7C577.4 1043.7 576.4 1047 575.7 1048.1" fill="none" stroke="#000" stroke-width="5.5"/>
<path d="M575.7 1048.1C574.7 1046.3 571.7 1042.1 569.7 1037.7C567.7 1033.3 565.1 1027 563.7 1021.7C562.4 1016.4 561.4 1011 561.7 1005.7C562.1 1000.4 565.7 994.7 565.7 989.7C565.7 984.8 564.1 979.8 561.7 975.8C559.4 971.8 554.1 968.7 551.8 965.8C549.4 962.9 548.4 959.5 547.8 958.2" fill="none" stroke="#000" stroke-width="5.5"/>
<path d="M524.8 949.8C523.7 953.1 519.6 963.1 518.2 969.8C516.8 976.4 515.9 983.8 516.2 989.7C516.5 995.7 517.9 1000.7 519.8 1005.7C521.7 1010.7 525.1 1014.4 527.8 1019.7C530.5 1025 533.1 1032.7 535.8 1037.7C538.4 1042.7 540.1 1045.6 543.8 1049.6C547.4 1053.7 555.4 1060 557.7 1062" fill="none" stroke="#000" stroke-width="5.3"/>
<path d="M519.8 1009.7C521.8 1011.7 528.5 1016.7 531.8 1021.7C535.1 1026.7 537.1 1034.3 539.8 1039.7C542.4 1045 544.4 1050.6 547.8 1053.6C551.1 1056.6 557.7 1057 559.7 1057.6" fill="none" stroke="#000" stroke-width="4.9"/>
<path d="M557.7 1062 L559.7 1071.6" fill="none" stroke="#000" stroke-width="5.3"/>
<ellipse cx="539.2" cy="993.7" rx="12.4" ry="17.6" transform="rotate(24 539.2 993.7)" fill="none" stroke="#000" stroke-width="5.7"/>
<ellipse cx="537.8" cy="992.7" rx="5.2" ry="12" transform="rotate(32 537.8 992.7)" fill="none" stroke="#000" stroke-width="4.7"/>
<ellipse cx="590.7" cy="1048.1" rx="12.4" ry="4.4" transform="rotate(-12 590.7 1048.1)" fill="none" stroke="#000" stroke-width="4.9"/>
<path d="M567.7 1057.6C569.1 1056 571.7 1050.3 575.7 1047.7C579.7 1045 586.4 1042.2 591.7 1041.7C597 1041.2 605 1044.2 607.7 1044.7" fill="none" stroke="#000" stroke-width="4"/>
<path d="M562.1 1063.6C565.1 1063.7 573.5 1064.7 579.7 1064C586 1063.4 593.8 1062.3 599.7 1059.6C605.5 1057 612.3 1050 614.9 1048.1" fill="none" stroke="#000" stroke-width="5.3"/>
<path d="M601.7 1041.7C602.3 1042.3 605.5 1044.3 605.7 1045.7C605.8 1047 603.2 1049 602.7 1049.6" fill="none" stroke="#000" stroke-width="3.8"/>
<path d="M497.8 957.8C496.2 959.1 490.2 962.5 487.9 965.8C485.5 969.1 483.5 974.4 483.9 977.8C484.2 981.1 487.2 983.8 489.9 985.8C492.5 987.7 497.5 990.4 499.8 989.7C502.2 989.1 502.8 985.1 503.8 981.8C504.8 978.4 505.8 973.8 505.8 969.8C505.9 965.8 504.5 959.8 504.2 957.8" fill="none" stroke="#000" stroke-width="5.3"/>
<path d="M499.8 989.7 L497.8 1004.1 L503.8 1004.1" fill="none" stroke="#000" stroke-width="5.3"/>
<path d="M498.2 1010.7 L503.8 1004.1" fill="none" stroke="#000" stroke-width="5.3"/>
<path d="M459.9 950.8 L511.8 949.8" fill="none" stroke="#000" stroke-width="5.3"/>
<path d="M60.5 945.8 L59.6 1185.6" fill="none" stroke="#000" stroke-width="6.7" stroke-linecap="square"/>
<path d="M60.5 945.8 L297.0 948.5" fill="none" stroke="#000" stroke-width="5.0" stroke-linecap="square"/>
<path d="M297.0 948.5 L296.5 1188.0" fill="none" stroke="#000" stroke-width="6.8" stroke-linecap="square"/>
<path d="M59.6 1185.6 L296.5 1188.0" fill="none" stroke="#000" stroke-width="6.2" stroke-linecap="square"/>
<path d="M203.8 955C208.5 954.6 215.5 955.2 221.4 956.8C227.3 958.4 233.1 960.9 239 964.9C244.8 968.9 251.3 975.4 256.6 980.7C261.8 986 266.8 991.2 270.6 996.5C274.4 1001.8 277.5 1006.2 279.4 1012.3C281.3 1018.5 281.7 1025.8 282.2 1033.4C282.8 1041.1 282.6 1049.5 282.6 1058C282.5 1066.5 282.6 1077.1 282 1084.4C281.5 1091.7 281.3 1096.7 279.4 1102C277.5 1107.3 274.4 1111.9 270.6 1116.1C266.8 1120.2 261.8 1123.8 256.6 1126.6C251.3 1129.4 244.3 1131.4 239 1132.8C233.7 1134.1 230.2 1134.9 224.9 1134.5C219.6 1134.1 213.2 1132.3 207.3 1130.1C201.5 1127.9 195.3 1124.8 189.8 1121.3C184.2 1117.8 178.6 1113.7 173.9 1109C169.3 1104.3 165 1098.8 161.6 1093.2C158.3 1087.6 155.5 1082.1 153.7 1075.6C151.9 1069.2 151.1 1062.1 150.7 1054.5C150.4 1046.9 150.5 1038.1 151.4 1029.9C152.4 1021.7 154.5 1012.9 156.4 1005.3C158.2 997.7 160.2 989.6 162.5 984.2C164.9 978.8 166.2 975.8 170.4 972.8C174.7 969.7 184.1 968.2 188 965.9C191.9 963.7 191 961.1 193.6 959.3C196.3 957.4 199.2 955.4 203.8 955Z" fill="none" stroke="#000" stroke-width="5.7"/>
<path d="M151.8 1044C152 1037.5 152.1 1027.6 153.6 1019.4C155 1011.2 157.1 1000.3 160.2 994.8C163.3 989.3 167.3 988.1 172.2 986.3C177.1 984.6 184.2 984 189.8 984.2C195.3 984.5 200.3 985.4 205.6 987.7C210.9 990.1 216.4 993.9 221.4 998.3C226.4 1002.7 231.4 1009.4 235.5 1014.1C239.6 1018.8 243.1 1022 246 1026.4C248.9 1030.8 251.4 1034.6 253 1040.5C254.7 1046.3 255.4 1053.9 255.9 1061.6C256.3 1069.2 256 1079.1 255.9 1086.2C255.7 1093.2 255.9 1099.1 254.8 1103.7C253.7 1108.4 252.8 1111.3 249.5 1114.3C246.3 1117.3 240.7 1119.9 235.5 1121.7C230.2 1123.5 223.7 1125.2 217.9 1125.2C212 1125.2 206.2 1123.9 200.3 1121.7C194.5 1119.4 188.2 1116 182.7 1111.7C177.3 1107.4 172.2 1101.8 167.8 1095.8C163.3 1089.8 158.6 1081.9 156 1075.6C153.4 1069.3 152.9 1063.3 152.1 1058C151.4 1052.8 151.6 1050.4 151.8 1044Z" fill="none" stroke="#000" stroke-width="5.7"/>
<path d="M167.8 978.9C170.3 978.2 177.3 975.6 182.7 974.6C188.2 973.5 194.5 972.1 200.3 972.8C206.2 973.5 212 975.6 217.9 978.9C223.7 982.3 230.2 988 235.5 993C240.7 998 245.4 1003.3 249.5 1008.8C253.6 1014.4 257.8 1020 260.1 1026.4C262.4 1032.8 262.7 1039.3 263.2 1047.5C263.8 1055.7 263.7 1066.5 263.6 1075.6C263.5 1084.7 263.6 1095 262.7 1102C261.8 1109 259.1 1115.2 258.3 1117.8" fill="none" stroke="#000" stroke-width="6"/>
<path d="M193.3 959.6C196.8 959.9 207.3 959.2 214.4 961.4C221.4 963.6 229 968.1 235.5 972.8C241.9 977.5 248.1 984.1 253 989.5C258 994.9 262.7 999.7 265.3 1005.3C268 1010.9 268.5 1014.1 269.2 1022.9C269.9 1031.7 269.8 1046.3 269.7 1058C269.7 1069.8 269.6 1084.1 268.9 1093.2C268.1 1102.3 265.9 1109.3 265.3 1112.5" fill="none" stroke="#000" stroke-width="5.1"/>
<path d="M200.3 978.9C203.2 980.8 212.6 985.4 217.9 989.8C223.2 994.2 228.1 1000.4 232 1005.3C235.8 1010.2 239 1014.3 240.7 1019.4C242.5 1024.4 242.2 1032.8 242.5 1035.5" fill="none" stroke="#000" stroke-width="7.5"/>
<path d="M227.6 981.1C230.3 983.6 239.4 990.4 244.3 996.5C249.1 1002.6 253.7 1011.5 256.6 1017.6C259.4 1023.8 260.4 1030.8 261.1 1033.4" fill="none" stroke="#000" stroke-width="5.5"/>
<path d="M258.3 1033.4 L259.2 1117.8" fill="none" stroke="#000" stroke-width="7"/>
<path d="M205.2 954.7 L208.2 964.9 L199.4 978.9" fill="none" stroke="#000" stroke-width="9"/>
<path d="M212.6 956.1 L214.4 968.4" fill="none" stroke="#000" stroke-width="7.5"/>
<path d="M242.5 971.9 L246 982.5" fill="none" stroke="#000" stroke-width="9"/>
<path d="M265.3 1010.6 L281.2 1012" fill="none" stroke="#000" stroke-width="5.5"/>
<path d="M265.3 1037 L281.2 1038.4" fill="none" stroke="#000" stroke-width="7.5"/>
<path d="M265.3 1077.4 L281.2 1078.8" fill="none" stroke="#000" stroke-width="7.5"/>
<path d="M265.3 1103.7 L281.2 1105.2" fill="none" stroke="#000" stroke-width="5.5"/>
<path d="M242.5 986 L253 976.3" fill="none" stroke="#000" stroke-width="4.7"/>
<path d="M217.9 988.6 L219.6 978.9" fill="none" stroke="#000" stroke-width="4.7"/>
<path d="M165.2 987.7 L167.8 978.9" fill="none" stroke="#000" stroke-width="4.7"/>
<path d="M159 1019.7C160.6 1017.9 165 1011.6 168.7 1008.8C172.3 1006 177.3 1003.8 181 1002.9C184.6 1001.9 189 1002.9 190.6 1002.9" fill="none" stroke="#000" stroke-width="6.8"/>
<circle cx="246.4" cy="1045.7" r="5.8" fill="#000"/>
<circle cx="247.1" cy="1090.6" r="5.8" fill="#000"/>
<ellipse cx="223.2" cy="1066.1" rx="8.4" ry="10.2" transform="rotate(0 223.2 1066.1)" fill="#000" stroke="#000" stroke-width="1"/>
<path d="M197.7 1112.9C198.1 1110.2 198.4 1100.6 200.3 1096.7C202.2 1092.8 205.6 1090.4 209.1 1089.7C212.6 1089 217.6 1092 221.4 1092.5C225.2 1093 229.1 1093.1 232 1092.5C234.8 1091.9 237.2 1089.6 238.3 1089" fill="none" stroke="#000" stroke-width="6.4"/>
<path d="M203.8 1112.9C206.8 1112.5 215.8 1111.4 221.4 1110.8C227 1110.1 233.5 1109.9 237.2 1109C240.9 1108.1 242.5 1106.1 243.6 1105.5" fill="none" stroke="#000" stroke-width="6.4"/>
<path d="M197.7 1112.9C199.3 1113.8 203.4 1117 207.3 1118.2C211.3 1119.3 219.1 1119.3 221.4 1119.6" fill="none" stroke="#000" stroke-width="4.9"/>
<path d="M178.3 1190.3 L178.3 1200.1" fill="none" stroke="#000" stroke-width="4.7"/>
<path d="M165.5 1127.9 L224.7 1129.1" fill="none" stroke="#000" stroke-width="6"/>
<path d="M151.6 1140.9C154.1 1139.1 164.7 1136.6 168.4 1136.6C172.1 1136.5 178 1138.9 179.3 1140.5C180.6 1142.2 180.2 1146.4 178.3 1148.8C176.4 1151.2 168.2 1157 164.9 1158.3C161.5 1159.6 155 1159.7 153 1158.7C151 1157.6 149.8 1152.8 149.7 1150.4C149.5 1148 149.1 1142.8 151.6 1140.9Z" fill="#000" stroke="#000" stroke-width="2"/>
<path d="M155.8 1148.4 L157.6 1153.5" fill="none" stroke="#fff" stroke-width="1.4"/>
<path d="M93.8 1069.5C94.2 1067.2 95.3 1061.8 97.4 1059.6C99.4 1057.4 105.8 1053.9 109.2 1052.7C112.6 1051.5 120 1050.2 123 1050.7C126 1051.2 130.6 1054.7 131.9 1056.6C133.2 1058.6 133.2 1063 132.5 1065.5C131.8 1068 129.5 1073.2 127 1075.4C124.4 1077.5 116.7 1080.9 113.2 1081.7C109.6 1082.5 102.8 1082.4 100.3 1081.7C97.8 1081 95.3 1078 94.4 1076.4C93.5 1074.7 93.4 1071.7 93.8 1069.5Z" fill="#000" stroke="#000" stroke-width="2"/>
<ellipse cx="106.2" cy="1071" rx="5.5" ry="5.1" transform="rotate(0 106.2 1071)" fill="none" stroke="#fff" stroke-width="1.6"/>
<path d="M106.2 1066.5 L106.2 1075.8" fill="none" stroke="#fff" stroke-width="1.2"/>
<path d="M101.7 1071 L110.8 1071" fill="none" stroke="#fff" stroke-width="1.2"/>
<path d="M111.2 1059.6C112.1 1060.6 115.8 1063.4 116.7 1065.5C117.6 1067.7 116.7 1071.3 116.7 1072.4" fill="none" stroke="#fff" stroke-width="1.8"/>
</g>
</svg>
</body></html>
